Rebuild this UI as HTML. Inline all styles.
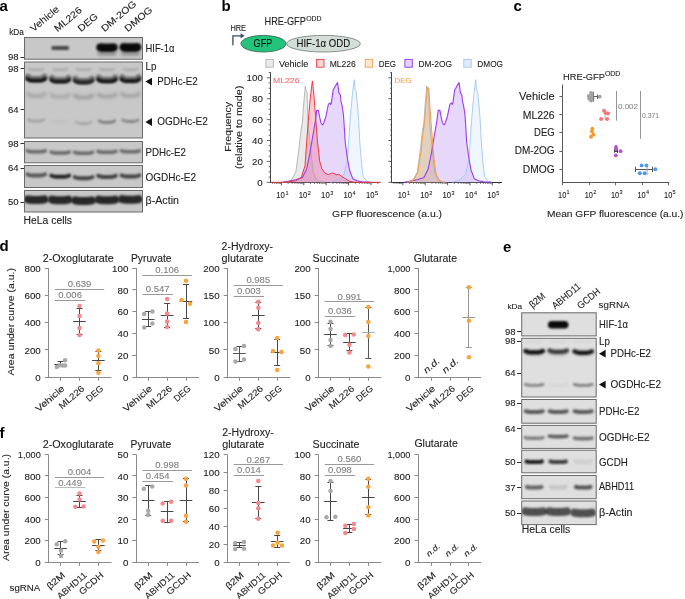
<!DOCTYPE html>
<html><head><meta charset="utf-8"><style>
html,body{margin:0;padding:0;background:#fff;}
svg{display:block;font-family:"Liberation Sans",sans-serif;will-change:transform;}
</style></head><body>
<svg width="685" height="599" viewBox="0 0 685 599">
<defs>
<filter id="bl1" x="-50%" y="-50%" width="200%" height="200%"><feGaussianBlur stdDeviation="1.2"/></filter>
<filter id="bl2" x="-50%" y="-50%" width="200%" height="200%"><feGaussianBlur stdDeviation="0.8"/></filter>
<filter id="bl3" x="-50%" y="-50%" width="200%" height="200%"><feGaussianBlur stdDeviation="1.8"/></filter>
</defs>
<rect width="685" height="599" fill="#fff"/>
<text x="-0.50" y="10.80" font-size="15" fill="#000" font-weight="bold" textLength="8.34" lengthAdjust="spacingAndGlyphs">a</text>
<text x="221.50" y="10.80" font-size="15" fill="#000" font-weight="bold" textLength="9.16" lengthAdjust="spacingAndGlyphs">b</text>
<text x="513.50" y="11.00" font-size="15" fill="#000" font-weight="bold" textLength="8.34" lengthAdjust="spacingAndGlyphs">c</text>
<text x="-0.50" y="250.80" font-size="15" fill="#000" font-weight="bold" textLength="9.16" lengthAdjust="spacingAndGlyphs">d</text>
<text x="503.00" y="252.00" font-size="15" fill="#000" font-weight="bold" textLength="8.34" lengthAdjust="spacingAndGlyphs">e</text>
<text x="-0.50" y="438.00" font-size="15" fill="#000" font-weight="bold" textLength="5.00" lengthAdjust="spacingAndGlyphs">f</text>
<clipPath id="cb1"><rect x="24.5" y="37.5" width="118.0" height="21.700000000000003"/></clipPath>
<rect x="24.5" y="37.5" width="118.0" height="21.700000000000003" fill="#c8c8c8"/>
<g clip-path="url(#cb1)">
<path d="M53.10 48.00 L67.30 48.00" stroke="#0a0a0a" stroke-opacity="0.68" stroke-width="3.80" stroke-linecap="round" stroke-linejoin="round" fill="none" style="filter:blur(0.9px)"/>
<path d="M100.45 47.40 Q102.20 47.80 104.82 47.80 L109.18 47.80 Q111.80 47.80 113.55 47.40" stroke="#0a0a0a" stroke-opacity="1.0" stroke-width="8.40" stroke-linecap="round" stroke-linejoin="round" fill="none" style="filter:blur(0.8px)"/>
<path d="M123.70 47.20 Q125.49 47.60 128.17 47.60 L132.63 47.60 Q135.31 47.60 137.10 47.20" stroke="#0a0a0a" stroke-opacity="1.0" stroke-width="8.60" stroke-linecap="round" stroke-linejoin="round" fill="none" style="filter:blur(0.8px)"/>
<path d="M99.25 53.80 L114.75 53.80" stroke="#0a0a0a" stroke-opacity="0.3" stroke-width="3.50" stroke-linecap="round" stroke-linejoin="round" fill="none" style="filter:blur(1.4px)"/>
<path d="M122.65 53.80 L138.15 53.80" stroke="#0a0a0a" stroke-opacity="0.3" stroke-width="3.50" stroke-linecap="round" stroke-linejoin="round" fill="none" style="filter:blur(1.4px)"/>
</g>
<rect x="24.5" y="37.5" width="118.0" height="21.700000000000003" fill="none" stroke="#6a6a6a" stroke-width="1"/>
<clipPath id="cb2"><rect x="24.5" y="62" width="118.0" height="76"/></clipPath>
<rect x="24.5" y="62" width="118.0" height="76" fill="#c8c8c8"/>
<g clip-path="url(#cb2)">
<path d="M29.15 69.00 Q31.03 69.80 33.85 69.80 L38.55 69.80 Q41.37 69.80 43.25 69.00" stroke="#0a0a0a" stroke-opacity="0.2" stroke-width="1.90" stroke-linecap="round" stroke-linejoin="round" fill="none" style="filter:blur(0.8px)"/>
<path d="M27.95 76.80 Q29.95 79.00 32.95 79.00 L39.45 79.00 Q42.45 79.00 44.45 76.80" stroke="#0a0a0a" stroke-opacity="0.45" stroke-width="6.00" stroke-linecap="round" stroke-linejoin="round" fill="none" style="filter:blur(1.1px)"/>
<path d="M27.35 78.80 Q29.35 80.60 32.35 80.60 L40.05 80.60 Q43.05 80.60 45.05 78.80" stroke="#0a0a0a" stroke-opacity="0.92" stroke-width="3.80" stroke-linecap="round" stroke-linejoin="round" fill="none" style="filter:blur(0.8px)"/>
<path d="M27.80 94.00 Q29.80 96.00 32.80 96.00 L39.60 96.00 Q42.60 96.00 44.60 94.00" stroke="#0a0a0a" stroke-opacity="0.16" stroke-width="4.20" stroke-linecap="round" stroke-linejoin="round" fill="none" style="filter:blur(1.4px)"/>
<path d="M53.15 69.00 Q55.03 69.80 57.85 69.80 L62.55 69.80 Q65.37 69.80 67.25 69.00" stroke="#0a0a0a" stroke-opacity="0.2" stroke-width="1.90" stroke-linecap="round" stroke-linejoin="round" fill="none" style="filter:blur(0.8px)"/>
<path d="M51.95 77.90 Q53.95 80.10 56.95 80.10 L63.45 80.10 Q66.45 80.10 68.45 77.90" stroke="#0a0a0a" stroke-opacity="0.45" stroke-width="6.00" stroke-linecap="round" stroke-linejoin="round" fill="none" style="filter:blur(1.1px)"/>
<path d="M51.35 79.90 Q53.35 81.70 56.35 81.70 L64.05 81.70 Q67.05 81.70 69.05 79.90" stroke="#0a0a0a" stroke-opacity="0.88" stroke-width="3.80" stroke-linecap="round" stroke-linejoin="round" fill="none" style="filter:blur(0.8px)"/>
<path d="M51.80 95.00 Q53.80 97.00 56.80 97.00 L63.60 97.00 Q66.60 97.00 68.60 95.00" stroke="#0a0a0a" stroke-opacity="0.14" stroke-width="4.20" stroke-linecap="round" stroke-linejoin="round" fill="none" style="filter:blur(1.4px)"/>
<path d="M76.55 69.00 Q78.43 69.80 81.25 69.80 L85.95 69.80 Q88.77 69.80 90.65 69.00" stroke="#0a0a0a" stroke-opacity="0.2" stroke-width="1.90" stroke-linecap="round" stroke-linejoin="round" fill="none" style="filter:blur(0.8px)"/>
<path d="M75.35 78.70 Q77.35 80.90 80.35 80.90 L86.85 80.90 Q89.85 80.90 91.85 78.70" stroke="#0a0a0a" stroke-opacity="0.45" stroke-width="6.00" stroke-linecap="round" stroke-linejoin="round" fill="none" style="filter:blur(1.1px)"/>
<path d="M74.75 80.70 Q76.75 82.50 79.75 82.50 L87.45 82.50 Q90.45 82.50 92.45 80.70" stroke="#0a0a0a" stroke-opacity="0.78" stroke-width="3.80" stroke-linecap="round" stroke-linejoin="round" fill="none" style="filter:blur(0.8px)"/>
<path d="M75.20 95.50 Q77.20 97.50 80.20 97.50 L87.00 97.50 Q90.00 97.50 92.00 95.50" stroke="#0a0a0a" stroke-opacity="0.2" stroke-width="4.20" stroke-linecap="round" stroke-linejoin="round" fill="none" style="filter:blur(1.4px)"/>
<path d="M99.95 69.00 Q101.83 69.80 104.65 69.80 L109.35 69.80 Q112.17 69.80 114.05 69.00" stroke="#0a0a0a" stroke-opacity="0.2" stroke-width="1.90" stroke-linecap="round" stroke-linejoin="round" fill="none" style="filter:blur(0.8px)"/>
<path d="M98.75 77.50 Q100.75 79.70 103.75 79.70 L110.25 79.70 Q113.25 79.70 115.25 77.50" stroke="#0a0a0a" stroke-opacity="0.45" stroke-width="6.00" stroke-linecap="round" stroke-linejoin="round" fill="none" style="filter:blur(1.1px)"/>
<path d="M98.15 79.50 Q100.15 81.30 103.15 81.30 L110.85 81.30 Q113.85 81.30 115.85 79.50" stroke="#0a0a0a" stroke-opacity="0.9" stroke-width="3.80" stroke-linecap="round" stroke-linejoin="round" fill="none" style="filter:blur(0.8px)"/>
<path d="M98.60 94.50 Q100.60 96.50 103.60 96.50 L110.40 96.50 Q113.40 96.50 115.40 94.50" stroke="#0a0a0a" stroke-opacity="0.18" stroke-width="4.20" stroke-linecap="round" stroke-linejoin="round" fill="none" style="filter:blur(1.4px)"/>
<path d="M123.35 69.00 Q125.23 69.80 128.05 69.80 L132.75 69.80 Q135.57 69.80 137.45 69.00" stroke="#0a0a0a" stroke-opacity="0.2" stroke-width="1.90" stroke-linecap="round" stroke-linejoin="round" fill="none" style="filter:blur(0.8px)"/>
<path d="M122.15 77.30 Q124.15 79.50 127.15 79.50 L133.65 79.50 Q136.65 79.50 138.65 77.30" stroke="#0a0a0a" stroke-opacity="0.45" stroke-width="6.00" stroke-linecap="round" stroke-linejoin="round" fill="none" style="filter:blur(1.1px)"/>
<path d="M121.55 79.30 Q123.55 81.10 126.55 81.10 L134.25 81.10 Q137.25 81.10 139.25 79.30" stroke="#0a0a0a" stroke-opacity="0.9" stroke-width="3.80" stroke-linecap="round" stroke-linejoin="round" fill="none" style="filter:blur(0.8px)"/>
<path d="M122.00 94.00 Q124.00 96.00 127.00 96.00 L133.80 96.00 Q136.80 96.00 138.80 94.00" stroke="#0a0a0a" stroke-opacity="0.17" stroke-width="4.20" stroke-linecap="round" stroke-linejoin="round" fill="none" style="filter:blur(1.4px)"/>
<path d="M28.60 119.70 Q30.60 121.20 33.60 121.20 L38.80 121.20 Q41.80 121.20 43.80 119.70" stroke="#0a0a0a" stroke-opacity="0.2" stroke-width="2.80" stroke-linecap="round" stroke-linejoin="round" fill="none" style="filter:blur(1.0px)"/>
<path d="M52.60 120.50 Q54.60 122.00 57.60 122.00 L62.80 122.00 Q65.80 122.00 67.80 120.50" stroke="#0a0a0a" stroke-opacity="0.04" stroke-width="2.80" stroke-linecap="round" stroke-linejoin="round" fill="none" style="filter:blur(1.0px)"/>
<path d="M76.00 122.00 Q78.00 123.50 81.00 123.50 L86.20 123.50 Q89.20 123.50 91.20 122.00" stroke="#0a0a0a" stroke-opacity="0.17" stroke-width="2.80" stroke-linecap="round" stroke-linejoin="round" fill="none" style="filter:blur(1.0px)"/>
<path d="M99.40 120.80 Q101.40 122.30 104.40 122.30 L109.60 122.30 Q112.60 122.30 114.60 120.80" stroke="#0a0a0a" stroke-opacity="0.4" stroke-width="2.80" stroke-linecap="round" stroke-linejoin="round" fill="none" style="filter:blur(1.0px)"/>
<path d="M122.80 120.00 Q124.80 121.50 127.80 121.50 L133.00 121.50 Q136.00 121.50 138.00 120.00" stroke="#0a0a0a" stroke-opacity="0.35" stroke-width="2.80" stroke-linecap="round" stroke-linejoin="round" fill="none" style="filter:blur(1.0px)"/>
</g>
<rect x="24.5" y="62" width="118.0" height="76" fill="none" stroke="#6a6a6a" stroke-width="1"/>
<clipPath id="cb3"><rect x="24.5" y="141.5" width="118.0" height="21.30000000000001"/></clipPath>
<rect x="24.5" y="141.5" width="118.0" height="21.30000000000001" fill="#c8c8c8"/>
<g clip-path="url(#cb3)">
<path d="M27.15 150.80 Q29.15 151.80 32.15 151.80 L40.25 151.80 Q43.25 151.80 45.25 150.80" stroke="#0a0a0a" stroke-opacity="0.5" stroke-width="3.40" stroke-linecap="round" stroke-linejoin="round" fill="none" style="filter:blur(0.9px)"/>
<path d="M51.15 152.00 Q53.15 153.00 56.15 153.00 L64.25 153.00 Q67.25 153.00 69.25 152.00" stroke="#0a0a0a" stroke-opacity="0.5" stroke-width="3.40" stroke-linecap="round" stroke-linejoin="round" fill="none" style="filter:blur(0.9px)"/>
<path d="M74.55 152.30 Q76.55 153.30 79.55 153.30 L87.65 153.30 Q90.65 153.30 92.65 152.30" stroke="#0a0a0a" stroke-opacity="0.5" stroke-width="3.40" stroke-linecap="round" stroke-linejoin="round" fill="none" style="filter:blur(0.9px)"/>
<path d="M97.95 151.30 Q99.95 152.30 102.95 152.30 L111.05 152.30 Q114.05 152.30 116.05 151.30" stroke="#0a0a0a" stroke-opacity="0.5" stroke-width="3.40" stroke-linecap="round" stroke-linejoin="round" fill="none" style="filter:blur(0.9px)"/>
<path d="M121.35 150.80 Q123.35 151.80 126.35 151.80 L134.45 151.80 Q137.45 151.80 139.45 150.80" stroke="#0a0a0a" stroke-opacity="0.5" stroke-width="3.40" stroke-linecap="round" stroke-linejoin="round" fill="none" style="filter:blur(0.9px)"/>
</g>
<rect x="24.5" y="141.5" width="118.0" height="21.30000000000001" fill="none" stroke="#6a6a6a" stroke-width="1"/>
<clipPath id="cb4"><rect x="24.5" y="165.5" width="118.0" height="22.0"/></clipPath>
<rect x="24.5" y="165.5" width="118.0" height="22.0" fill="#c8c8c8"/>
<g clip-path="url(#cb4)">
<path d="M27.45 174.40 Q29.45 175.60 32.45 175.60 L39.95 175.60 Q42.95 175.60 44.95 174.40" stroke="#0a0a0a" stroke-opacity="0.6" stroke-width="4.00" stroke-linecap="round" stroke-linejoin="round" fill="none" style="filter:blur(0.9px)"/>
<path d="M51.45 175.60 Q53.45 176.80 56.45 176.80 L63.95 176.80 Q66.95 176.80 68.95 175.60" stroke="#0a0a0a" stroke-opacity="0.88" stroke-width="4.00" stroke-linecap="round" stroke-linejoin="round" fill="none" style="filter:blur(0.9px)"/>
<path d="M74.85 177.10 Q76.85 178.30 79.85 178.30 L87.35 178.30 Q90.35 178.30 92.35 177.10" stroke="#0a0a0a" stroke-opacity="0.7" stroke-width="4.00" stroke-linecap="round" stroke-linejoin="round" fill="none" style="filter:blur(0.9px)"/>
<path d="M98.25 175.80 Q100.25 177.00 103.25 177.00 L110.75 177.00 Q113.75 177.00 115.75 175.80" stroke="#0a0a0a" stroke-opacity="0.7" stroke-width="4.00" stroke-linecap="round" stroke-linejoin="round" fill="none" style="filter:blur(0.9px)"/>
<path d="M121.65 175.40 Q123.65 176.60 126.65 176.60 L134.15 176.60 Q137.15 176.60 139.15 175.40" stroke="#0a0a0a" stroke-opacity="0.7" stroke-width="4.00" stroke-linecap="round" stroke-linejoin="round" fill="none" style="filter:blur(0.9px)"/>
</g>
<rect x="24.5" y="165.5" width="118.0" height="22.0" fill="none" stroke="#6a6a6a" stroke-width="1"/>
<clipPath id="cb5"><rect x="24.5" y="190.5" width="118.0" height="21.5"/></clipPath>
<rect x="24.5" y="190.5" width="118.0" height="21.5" fill="#c8c8c8"/>
<g clip-path="url(#cb5)">
<path d="M27.95 199.40 Q29.95 200.00 32.95 200.00 L39.45 200.00 Q42.45 200.00 44.45 199.40" stroke="#0a0a0a" stroke-opacity="0.85" stroke-width="8.00" stroke-linecap="round" stroke-linejoin="round" fill="none" style="filter:blur(1.1px)"/>
<path d="M51.95 199.60 Q53.95 200.20 56.95 200.20 L63.45 200.20 Q66.45 200.20 68.45 199.60" stroke="#0a0a0a" stroke-opacity="0.85" stroke-width="8.00" stroke-linecap="round" stroke-linejoin="round" fill="none" style="filter:blur(1.1px)"/>
<path d="M75.35 200.40 Q77.35 201.00 80.35 201.00 L86.85 201.00 Q89.85 201.00 91.85 200.40" stroke="#0a0a0a" stroke-opacity="0.85" stroke-width="8.00" stroke-linecap="round" stroke-linejoin="round" fill="none" style="filter:blur(1.1px)"/>
<path d="M98.75 199.60 Q100.75 200.20 103.75 200.20 L110.25 200.20 Q113.25 200.20 115.25 199.60" stroke="#0a0a0a" stroke-opacity="0.85" stroke-width="8.00" stroke-linecap="round" stroke-linejoin="round" fill="none" style="filter:blur(1.1px)"/>
<path d="M122.15 199.20 Q124.15 199.80 127.15 199.80 L133.65 199.80 Q136.65 199.80 138.65 199.20" stroke="#0a0a0a" stroke-opacity="0.85" stroke-width="8.00" stroke-linecap="round" stroke-linejoin="round" fill="none" style="filter:blur(1.1px)"/>
</g>
<rect x="24.5" y="190.5" width="118.0" height="21.5" fill="none" stroke="#6a6a6a" stroke-width="1"/>
<text x="9.20" y="34.50" font-size="8.5" fill="#222" stroke="#222" stroke-width="0.1" textLength="14.70" lengthAdjust="spacingAndGlyphs">kDa</text>
<line x1="20.50" y1="57.50" x2="24.00" y2="57.50" stroke="#333" stroke-width="1"/>
<text x="18.50" y="60.40" font-size="8.5" text-anchor="end" fill="#222" stroke="#222" stroke-width="0.1" textLength="10.59" lengthAdjust="spacingAndGlyphs">98</text>
<line x1="20.50" y1="68.50" x2="24.00" y2="68.50" stroke="#333" stroke-width="1"/>
<text x="18.50" y="71.50" font-size="8.5" text-anchor="end" fill="#222" stroke="#222" stroke-width="0.1" textLength="10.59" lengthAdjust="spacingAndGlyphs">98</text>
<line x1="20.50" y1="109.50" x2="24.00" y2="109.50" stroke="#333" stroke-width="1"/>
<text x="18.50" y="112.50" font-size="8.5" text-anchor="end" fill="#222" stroke="#222" stroke-width="0.1" textLength="10.59" lengthAdjust="spacingAndGlyphs">64</text>
<line x1="20.50" y1="143.50" x2="24.00" y2="143.50" stroke="#333" stroke-width="1"/>
<text x="18.50" y="146.60" font-size="8.5" text-anchor="end" fill="#222" stroke="#222" stroke-width="0.1" textLength="10.59" lengthAdjust="spacingAndGlyphs">98</text>
<line x1="20.50" y1="168.50" x2="24.00" y2="168.50" stroke="#333" stroke-width="1"/>
<text x="18.50" y="171.10" font-size="8.5" text-anchor="end" fill="#222" stroke="#222" stroke-width="0.1" textLength="10.59" lengthAdjust="spacingAndGlyphs">64</text>
<line x1="20.50" y1="202.50" x2="24.00" y2="202.50" stroke="#333" stroke-width="1"/>
<text x="18.50" y="205.10" font-size="8.5" text-anchor="end" fill="#222" stroke="#222" stroke-width="0.1" textLength="10.59" lengthAdjust="spacingAndGlyphs">50</text>
<text transform="translate(33.60,32.20) rotate(-40)" font-size="9.5" fill="#222" stroke="#222" stroke-width="0.1" textLength="34.31" lengthAdjust="spacingAndGlyphs">Vehicle</text>
<text transform="translate(57.60,32.20) rotate(-40)" font-size="9.5" fill="#222" stroke="#222" stroke-width="0.1" textLength="32.53" lengthAdjust="spacingAndGlyphs">ML226</text>
<text transform="translate(81.00,32.20) rotate(-40)" font-size="9.5" fill="#222" stroke="#222" stroke-width="0.1" textLength="23.06" lengthAdjust="spacingAndGlyphs">DEG</text>
<text transform="translate(104.40,32.20) rotate(-40)" font-size="9.5" fill="#222" stroke="#222" stroke-width="0.1" textLength="42.56" lengthAdjust="spacingAndGlyphs">DM-2OG</text>
<text transform="translate(127.80,32.20) rotate(-40)" font-size="9.5" fill="#222" stroke="#222" stroke-width="0.1" textLength="33.10" lengthAdjust="spacingAndGlyphs">DMOG</text>
<text x="145.50" y="51.80" font-size="10.2" fill="#222" stroke="#222" stroke-width="0.1" textLength="28.90" lengthAdjust="spacingAndGlyphs">HIF-1α</text>
<text x="145.50" y="69.80" font-size="10.2" fill="#222" stroke="#222" stroke-width="0.1" textLength="10.80" lengthAdjust="spacingAndGlyphs">Lp</text>
<text x="145.50" y="156.20" font-size="10.2" fill="#222" stroke="#222" stroke-width="0.1" textLength="40.40" lengthAdjust="spacingAndGlyphs">PDHc-E2</text>
<text x="145.50" y="181.20" font-size="10.2" fill="#222" stroke="#222" stroke-width="0.1" textLength="50.50" lengthAdjust="spacingAndGlyphs">OGDHc-E2</text>
<text x="145.50" y="204.40" font-size="10.2" fill="#222" stroke="#222" stroke-width="0.1" textLength="33.50" lengthAdjust="spacingAndGlyphs">β-Actin</text>
<path d="M145.4 81.6 L152.0 77.7 L152.0 85.5 Z" fill="#111"/>
<text x="157.30" y="84.60" font-size="10.2" fill="#222" stroke="#222" stroke-width="0.1" textLength="40.40" lengthAdjust="spacingAndGlyphs">PDHc-E2</text>
<path d="M145.4 122.0 L152.0 118.1 L152.0 125.9 Z" fill="#111"/>
<text x="157.30" y="125.00" font-size="10.2" fill="#222" stroke="#222" stroke-width="0.1" textLength="50.50" lengthAdjust="spacingAndGlyphs">OGDHc-E2</text>
<text x="23.60" y="223.60" font-size="10" fill="#222" stroke="#222" stroke-width="0.1" textLength="48.40" lengthAdjust="spacingAndGlyphs">HeLa cells</text>
<clipPath id="cb6"><rect x="521.7" y="312.8" width="74.5" height="23.099999999999966"/></clipPath>
<rect x="521.7" y="312.8" width="74.5" height="23.099999999999966" fill="#dfdfdf"/>
<g clip-path="url(#cb6)">
<path d="M551.70 324.80 L564.70 324.80" stroke="#0a0a0a" stroke-opacity="1.0" stroke-width="7.60" stroke-linecap="round" stroke-linejoin="round" fill="none" style="filter:blur(0.8px)"/>
</g>
<rect x="521.7" y="312.8" width="74.5" height="23.099999999999966" fill="none" stroke="#6a6a6a" stroke-width="1"/>
<clipPath id="cb7"><rect x="521.7" y="338.3" width="74.5" height="58.69999999999999"/></clipPath>
<rect x="521.7" y="338.3" width="74.5" height="58.69999999999999" fill="#dfdfdf"/>
<g clip-path="url(#cb7)">
<path d="M526.10 341.30 Q528.10 341.80 531.10 341.80 L537.30 341.80 Q540.30 341.80 542.30 341.30" stroke="#0a0a0a" stroke-opacity="0.05" stroke-width="1.80" stroke-linecap="round" stroke-linejoin="round" fill="none" style="filter:blur(1.0px)"/>
<path d="M525.55 351.00 Q527.55 352.40 530.55 352.40 L537.85 352.40 Q540.85 352.40 542.85 351.00" stroke="#0a0a0a" stroke-opacity="0.95" stroke-width="4.20" stroke-linecap="round" stroke-linejoin="round" fill="none" style="filter:blur(0.8px)"/>
<path d="M526.70 351.80 Q528.70 353.00 531.70 353.00 L536.70 353.00 Q539.70 353.00 541.70 351.80" stroke="#0a0a0a" stroke-opacity="0.15" stroke-width="6.50" stroke-linecap="round" stroke-linejoin="round" fill="none" style="filter:blur(1.5px)"/>
<path d="M525.35 384.40 Q527.35 385.30 530.35 385.30 L538.05 385.30 Q541.05 385.30 543.05 384.40" stroke="#0a0a0a" stroke-opacity="0.42" stroke-width="2.80" stroke-linecap="round" stroke-linejoin="round" fill="none" style="filter:blur(1.0px)"/>
<path d="M550.10 341.30 Q552.10 341.80 555.10 341.80 L561.30 341.80 Q564.30 341.80 566.30 341.30" stroke="#0a0a0a" stroke-opacity="0.05" stroke-width="1.80" stroke-linecap="round" stroke-linejoin="round" fill="none" style="filter:blur(1.0px)"/>
<path d="M549.55 350.50 Q551.55 351.90 554.55 351.90 L561.85 351.90 Q564.85 351.90 566.85 350.50" stroke="#0a0a0a" stroke-opacity="0.72" stroke-width="4.20" stroke-linecap="round" stroke-linejoin="round" fill="none" style="filter:blur(0.8px)"/>
<path d="M550.70 351.80 Q552.70 353.00 555.70 353.00 L560.70 353.00 Q563.70 353.00 565.70 351.80" stroke="#0a0a0a" stroke-opacity="0.15" stroke-width="6.50" stroke-linecap="round" stroke-linejoin="round" fill="none" style="filter:blur(1.5px)"/>
<path d="M549.35 384.40 Q551.35 385.30 554.35 385.30 L562.05 385.30 Q565.05 385.30 567.05 384.40" stroke="#0a0a0a" stroke-opacity="0.05" stroke-width="2.80" stroke-linecap="round" stroke-linejoin="round" fill="none" style="filter:blur(1.0px)"/>
<path d="M575.10 341.30 Q577.10 341.80 580.10 341.80 L586.30 341.80 Q589.30 341.80 591.30 341.30" stroke="#0a0a0a" stroke-opacity="0.05" stroke-width="1.80" stroke-linecap="round" stroke-linejoin="round" fill="none" style="filter:blur(1.0px)"/>
<path d="M574.55 351.40 Q576.55 352.80 579.55 352.80 L586.85 352.80 Q589.85 352.80 591.85 351.40" stroke="#0a0a0a" stroke-opacity="0.92" stroke-width="4.20" stroke-linecap="round" stroke-linejoin="round" fill="none" style="filter:blur(0.8px)"/>
<path d="M575.70 351.80 Q577.70 353.00 580.70 353.00 L585.70 353.00 Q588.70 353.00 590.70 351.80" stroke="#0a0a0a" stroke-opacity="0.15" stroke-width="6.50" stroke-linecap="round" stroke-linejoin="round" fill="none" style="filter:blur(1.5px)"/>
<path d="M574.35 384.40 Q576.35 385.30 579.35 385.30 L587.05 385.30 Q590.05 385.30 592.05 384.40" stroke="#0a0a0a" stroke-opacity="0.45" stroke-width="2.80" stroke-linecap="round" stroke-linejoin="round" fill="none" style="filter:blur(1.0px)"/>
</g>
<rect x="521.7" y="338.3" width="74.5" height="58.69999999999999" fill="none" stroke="#6a6a6a" stroke-width="1"/>
<clipPath id="cb8"><rect x="521.7" y="399.5" width="74.5" height="23.69999999999999"/></clipPath>
<rect x="521.7" y="399.5" width="74.5" height="23.69999999999999" fill="#dfdfdf"/>
<g clip-path="url(#cb8)">
<path d="M525.70 411.20 Q527.70 412.00 530.70 412.00 L537.70 412.00 Q540.70 412.00 542.70 411.20" stroke="#0a0a0a" stroke-opacity="0.62" stroke-width="4.00" stroke-linecap="round" stroke-linejoin="round" fill="none" style="filter:blur(0.9px)"/>
<path d="M549.70 411.20 Q551.70 412.00 554.70 412.00 L561.70 412.00 Q564.70 412.00 566.70 411.20" stroke="#0a0a0a" stroke-opacity="0.62" stroke-width="4.00" stroke-linecap="round" stroke-linejoin="round" fill="none" style="filter:blur(0.9px)"/>
<path d="M574.70 411.20 Q576.70 412.00 579.70 412.00 L586.70 412.00 Q589.70 412.00 591.70 411.20" stroke="#0a0a0a" stroke-opacity="0.62" stroke-width="4.00" stroke-linecap="round" stroke-linejoin="round" fill="none" style="filter:blur(0.9px)"/>
</g>
<rect x="521.7" y="399.5" width="74.5" height="23.69999999999999" fill="none" stroke="#6a6a6a" stroke-width="1"/>
<clipPath id="cb9"><rect x="521.7" y="425.4" width="74.5" height="23.0"/></clipPath>
<rect x="521.7" y="425.4" width="74.5" height="23.0" fill="#dfdfdf"/>
<g clip-path="url(#cb9)">
<path d="M525.50 437.60 Q527.50 438.20 530.50 438.20 L537.90 438.20 Q540.90 438.20 542.90 437.60" stroke="#0a0a0a" stroke-opacity="0.45" stroke-width="3.60" stroke-linecap="round" stroke-linejoin="round" fill="none" style="filter:blur(0.9px)"/>
<path d="M549.50 436.00 Q551.50 436.60 554.50 436.60 L561.90 436.60 Q564.90 436.60 566.90 436.00" stroke="#0a0a0a" stroke-opacity="0.6" stroke-width="3.60" stroke-linecap="round" stroke-linejoin="round" fill="none" style="filter:blur(0.9px)"/>
<path d="M574.50 438.00 Q576.50 438.60 579.50 438.60 L586.90 438.60 Q589.90 438.60 591.90 438.00" stroke="#0a0a0a" stroke-opacity="0.5" stroke-width="3.60" stroke-linecap="round" stroke-linejoin="round" fill="none" style="filter:blur(0.9px)"/>
</g>
<rect x="521.7" y="425.4" width="74.5" height="23.0" fill="none" stroke="#6a6a6a" stroke-width="1"/>
<clipPath id="cb10"><rect x="521.7" y="450.2" width="74.5" height="22.600000000000023"/></clipPath>
<rect x="521.7" y="450.2" width="74.5" height="22.600000000000023" fill="#dfdfdf"/>
<g clip-path="url(#cb10)">
<path d="M526.55 461.40 Q528.55 462.00 531.55 462.00 L536.85 462.00 Q539.85 462.00 541.85 461.40" stroke="#0a0a0a" stroke-opacity="0.9" stroke-width="4.20" stroke-linecap="round" stroke-linejoin="round" fill="none" style="filter:blur(0.9px)"/>
<path d="M550.55 461.40 Q552.55 462.00 555.55 462.00 L560.85 462.00 Q563.85 462.00 565.85 461.40" stroke="#0a0a0a" stroke-opacity="0.75" stroke-width="4.20" stroke-linecap="round" stroke-linejoin="round" fill="none" style="filter:blur(0.9px)"/>
<path d="M575.55 461.40 Q577.55 462.00 580.55 462.00 L585.85 462.00 Q588.85 462.00 590.85 461.40" stroke="#0a0a0a" stroke-opacity="0.08" stroke-width="4.20" stroke-linecap="round" stroke-linejoin="round" fill="none" style="filter:blur(0.9px)"/>
</g>
<rect x="521.7" y="450.2" width="74.5" height="22.600000000000023" fill="none" stroke="#6a6a6a" stroke-width="1"/>
<clipPath id="cb11"><rect x="521.7" y="475.5" width="74.5" height="23.19999999999999"/></clipPath>
<rect x="521.7" y="475.5" width="74.5" height="23.19999999999999" fill="#dfdfdf"/>
<g clip-path="url(#cb11)">
<path d="M527.05 486.90 Q528.96 487.50 531.82 487.50 L536.58 487.50 Q539.44 487.50 541.35 486.90" stroke="#0a0a0a" stroke-opacity="0.58" stroke-width="4.20" stroke-linecap="round" stroke-linejoin="round" fill="none" style="filter:blur(0.9px)"/>
<path d="M551.05 486.90 Q552.96 487.50 555.82 487.50 L560.58 487.50 Q563.44 487.50 565.35 486.90" stroke="#0a0a0a" stroke-opacity="0.12" stroke-width="4.20" stroke-linecap="round" stroke-linejoin="round" fill="none" style="filter:blur(0.9px)"/>
<path d="M576.05 486.90 Q577.96 487.50 580.82 487.50 L585.58 487.50 Q588.44 487.50 590.35 486.90" stroke="#0a0a0a" stroke-opacity="0.65" stroke-width="4.20" stroke-linecap="round" stroke-linejoin="round" fill="none" style="filter:blur(0.9px)"/>
</g>
<rect x="521.7" y="475.5" width="74.5" height="23.19999999999999" fill="none" stroke="#6a6a6a" stroke-width="1"/>
<clipPath id="cb12"><rect x="521.7" y="501" width="74.5" height="23.600000000000023"/></clipPath>
<rect x="521.7" y="501" width="74.5" height="23.600000000000023" fill="#dfdfdf"/>
<g clip-path="url(#cb12)">
<path d="M525.45 511.40 Q527.45 512.00 530.45 512.00 L537.95 512.00 Q540.95 512.00 542.95 511.40" stroke="#0a0a0a" stroke-opacity="0.68" stroke-width="8.00" stroke-linecap="round" stroke-linejoin="round" fill="none" style="filter:blur(1.1px)"/>
<path d="M549.45 511.40 Q551.45 512.00 554.45 512.00 L561.95 512.00 Q564.95 512.00 566.95 511.40" stroke="#0a0a0a" stroke-opacity="0.68" stroke-width="8.00" stroke-linecap="round" stroke-linejoin="round" fill="none" style="filter:blur(1.1px)"/>
<path d="M574.45 512.70 Q576.45 513.30 579.45 513.30 L586.95 513.30 Q589.95 513.30 591.95 512.70" stroke="#0a0a0a" stroke-opacity="0.68" stroke-width="8.00" stroke-linecap="round" stroke-linejoin="round" fill="none" style="filter:blur(1.1px)"/>
</g>
<rect x="521.7" y="501" width="74.5" height="23.600000000000023" fill="none" stroke="#6a6a6a" stroke-width="1"/>
<text x="507.50" y="309.30" font-size="7.5" fill="#222" stroke="#222" stroke-width="0.1" textLength="14.67" lengthAdjust="spacingAndGlyphs">kDa</text>
<line x1="517.00" y1="331.50" x2="521.00" y2="331.50" stroke="#333" stroke-width="1"/>
<text x="515.50" y="334.60" font-size="8.5" text-anchor="end" fill="#222" stroke="#222" stroke-width="0.1" textLength="10.59" lengthAdjust="spacingAndGlyphs">98</text>
<line x1="517.00" y1="341.50" x2="521.00" y2="341.50" stroke="#333" stroke-width="1"/>
<text x="515.50" y="344.10" font-size="8.5" text-anchor="end" fill="#222" stroke="#222" stroke-width="0.1" textLength="10.59" lengthAdjust="spacingAndGlyphs">98</text>
<line x1="517.00" y1="373.50" x2="521.00" y2="373.50" stroke="#333" stroke-width="1"/>
<text x="515.50" y="376.20" font-size="8.5" text-anchor="end" fill="#222" stroke="#222" stroke-width="0.1" textLength="10.59" lengthAdjust="spacingAndGlyphs">64</text>
<line x1="517.00" y1="403.50" x2="521.00" y2="403.50" stroke="#333" stroke-width="1"/>
<text x="515.50" y="406.10" font-size="8.5" text-anchor="end" fill="#222" stroke="#222" stroke-width="0.1" textLength="10.59" lengthAdjust="spacingAndGlyphs">98</text>
<line x1="517.00" y1="428.50" x2="521.00" y2="428.50" stroke="#333" stroke-width="1"/>
<text x="515.50" y="432.00" font-size="8.5" text-anchor="end" fill="#222" stroke="#222" stroke-width="0.1" textLength="10.59" lengthAdjust="spacingAndGlyphs">64</text>
<line x1="517.00" y1="462.50" x2="521.00" y2="462.50" stroke="#333" stroke-width="1"/>
<text x="515.50" y="465.10" font-size="8.5" text-anchor="end" fill="#222" stroke="#222" stroke-width="0.1" textLength="10.59" lengthAdjust="spacingAndGlyphs">50</text>
<line x1="517.00" y1="487.50" x2="521.00" y2="487.50" stroke="#333" stroke-width="1"/>
<text x="515.50" y="490.60" font-size="8.5" text-anchor="end" fill="#222" stroke="#222" stroke-width="0.1" textLength="10.59" lengthAdjust="spacingAndGlyphs">37</text>
<line x1="517.00" y1="513.50" x2="521.00" y2="513.50" stroke="#333" stroke-width="1"/>
<text x="515.50" y="516.30" font-size="8.5" text-anchor="end" fill="#222" stroke="#222" stroke-width="0.1" textLength="10.59" lengthAdjust="spacingAndGlyphs">50</text>
<text transform="translate(532.40,308.50) rotate(-40)" font-size="9.8" fill="#222" stroke="#222" stroke-width="0.1" textLength="17.80" lengthAdjust="spacingAndGlyphs">β2M</text>
<text transform="translate(555.20,309.50) rotate(-40)" font-size="9.8" fill="#222" stroke="#222" stroke-width="0.1" textLength="34.00" lengthAdjust="spacingAndGlyphs">ABHD11</text>
<text transform="translate(580.60,309.50) rotate(-40)" font-size="9.8" fill="#222" stroke="#222" stroke-width="0.1" textLength="26.50" lengthAdjust="spacingAndGlyphs">GCDH</text>
<text x="598.60" y="307.60" font-size="9.8" fill="#222" stroke="#222" stroke-width="0.1" textLength="30.90" lengthAdjust="spacingAndGlyphs">sgRNA</text>
<text x="599.00" y="328.00" font-size="10.2" fill="#222" stroke="#222" stroke-width="0.1" textLength="28.90" lengthAdjust="spacingAndGlyphs">HIF-1α</text>
<text x="599.00" y="344.70" font-size="10.2" fill="#222" stroke="#222" stroke-width="0.1" textLength="10.80" lengthAdjust="spacingAndGlyphs">Lp</text>
<text x="599.00" y="415.30" font-size="10.2" fill="#222" stroke="#222" stroke-width="0.1" textLength="40.40" lengthAdjust="spacingAndGlyphs">PDHc-E2</text>
<text x="599.00" y="441.20" font-size="10.2" fill="#222" stroke="#222" stroke-width="0.1" textLength="50.50" lengthAdjust="spacingAndGlyphs">OGDHc-E2</text>
<text x="599.00" y="465.50" font-size="10.2" fill="#222" stroke="#222" stroke-width="0.1" textLength="28.80" lengthAdjust="spacingAndGlyphs">GCDH</text>
<text x="599.00" y="490.40" font-size="10.2" fill="#222" stroke="#222" stroke-width="0.1" textLength="35.00" lengthAdjust="spacingAndGlyphs">ABHD11</text>
<text x="599.00" y="515.70" font-size="10.2" fill="#222" stroke="#222" stroke-width="0.1" textLength="33.50" lengthAdjust="spacingAndGlyphs">β-Actin</text>
<path d="M599 353.7 L605.6 349.8 L605.6 357.6 Z" fill="#111"/>
<text x="610.60" y="356.70" font-size="10.2" fill="#222" stroke="#222" stroke-width="0.1" textLength="40.40" lengthAdjust="spacingAndGlyphs">PDHc-E2</text>
<path d="M599 384.6 L605.6 380.7 L605.6 388.5 Z" fill="#111"/>
<text x="610.60" y="387.60" font-size="10.2" fill="#222" stroke="#222" stroke-width="0.1" textLength="50.50" lengthAdjust="spacingAndGlyphs">OGDHc-E2</text>
<text x="521.80" y="533.00" font-size="10" fill="#222" stroke="#222" stroke-width="0.1" textLength="48.40" lengthAdjust="spacingAndGlyphs">HeLa cells</text>
<path d="M232.9 45.2 V35.8 H241.5" stroke="#3b4a66" stroke-width="1.3" fill="none"/>
<path d="M240.6 33.2 L244.6 35.8 L240.6 38.4 Z" fill="#3b4a66"/>
<text x="230.40" y="30.80" font-size="8.2" fill="#222" stroke="#222" stroke-width="0.1" textLength="15.60" lengthAdjust="spacingAndGlyphs">HRE</text>
<text x="264.60" y="25.20" font-size="10.2" fill="#222" stroke="#222" stroke-width="0.1" textLength="41.20" lengthAdjust="spacingAndGlyphs">HRE-GFP</text>
<text x="306.20" y="20.80" font-size="6.6" fill="#222" stroke="#222" stroke-width="0.1" textLength="15.40" lengthAdjust="spacingAndGlyphs">ODD</text>
<ellipse cx="323.5" cy="43.7" rx="36.8" ry="8.3" fill="#d3ded8" stroke="#6d7772" stroke-width="0.8"/>
<ellipse cx="263.4" cy="43.7" rx="22.5" ry="8.3" fill="#22c47c" stroke="#2c5e45" stroke-width="0.8"/>
<text x="263.00" y="47.40" font-size="10.8" text-anchor="middle" fill="#111" stroke="#111" stroke-width="0.1" textLength="18.80" lengthAdjust="spacingAndGlyphs">GFP</text>
<text x="323.30" y="47.40" font-size="10.8" text-anchor="middle" fill="#111" stroke="#111" stroke-width="0.1" textLength="53.60" lengthAdjust="spacingAndGlyphs">HIF-1α ODD</text>
<rect x="265.9" y="59.4" width="7.4" height="7.8" fill="#eaeaea" stroke="#b9b9b9" stroke-width="1"/>
<text x="279.00" y="66.50" font-size="9.2" fill="#222" stroke="#222" stroke-width="0.1" textLength="29.20" lengthAdjust="spacingAndGlyphs">Vehicle</text>
<rect x="316.6" y="59.4" width="7.4" height="7.8" fill="#fcd7d9" stroke="#ee4a52" stroke-width="1"/>
<text x="329.70" y="66.50" font-size="9.2" fill="#222" stroke="#222" stroke-width="0.1" textLength="26.10" lengthAdjust="spacingAndGlyphs">ML226</text>
<rect x="365.2" y="59.4" width="7.4" height="7.8" fill="#fde9d6" stroke="#f6a65a" stroke-width="1"/>
<text x="378.70" y="66.50" font-size="9.2" fill="#222" stroke="#222" stroke-width="0.1" textLength="17.30" lengthAdjust="spacingAndGlyphs">DEG</text>
<rect x="404.9" y="59.4" width="7.4" height="7.8" fill="#e6d3fb" stroke="#9a45ec" stroke-width="1"/>
<text x="418.50" y="66.50" font-size="9.2" fill="#222" stroke="#222" stroke-width="0.1" textLength="33.60" lengthAdjust="spacingAndGlyphs">DM-2OG</text>
<rect x="463.8" y="59.4" width="7.4" height="7.8" fill="#e0ecfb" stroke="#a9ccf3" stroke-width="1"/>
<text x="477.30" y="66.50" font-size="9.2" fill="#222" stroke="#222" stroke-width="0.1" textLength="25.70" lengthAdjust="spacingAndGlyphs">DMOG</text>
<line x1="270.50" y1="72.30" x2="270.50" y2="182.50" stroke="#444" stroke-width="1"/>
<line x1="266.80" y1="182.30" x2="270.40" y2="182.30" stroke="#444" stroke-width="0.8"/>
<line x1="268.60" y1="177.08" x2="270.40" y2="177.08" stroke="#444" stroke-width="0.8"/>
<line x1="268.60" y1="171.85" x2="270.40" y2="171.85" stroke="#444" stroke-width="0.8"/>
<line x1="268.60" y1="166.62" x2="270.40" y2="166.62" stroke="#444" stroke-width="0.8"/>
<line x1="266.80" y1="161.40" x2="270.40" y2="161.40" stroke="#444" stroke-width="0.8"/>
<line x1="268.60" y1="156.18" x2="270.40" y2="156.18" stroke="#444" stroke-width="0.8"/>
<line x1="268.60" y1="150.95" x2="270.40" y2="150.95" stroke="#444" stroke-width="0.8"/>
<line x1="268.60" y1="145.73" x2="270.40" y2="145.73" stroke="#444" stroke-width="0.8"/>
<line x1="266.80" y1="140.50" x2="270.40" y2="140.50" stroke="#444" stroke-width="0.8"/>
<line x1="268.60" y1="135.28" x2="270.40" y2="135.28" stroke="#444" stroke-width="0.8"/>
<line x1="268.60" y1="130.05" x2="270.40" y2="130.05" stroke="#444" stroke-width="0.8"/>
<line x1="268.60" y1="124.83" x2="270.40" y2="124.83" stroke="#444" stroke-width="0.8"/>
<line x1="266.80" y1="119.60" x2="270.40" y2="119.60" stroke="#444" stroke-width="0.8"/>
<line x1="268.60" y1="114.38" x2="270.40" y2="114.38" stroke="#444" stroke-width="0.8"/>
<line x1="268.60" y1="109.15" x2="270.40" y2="109.15" stroke="#444" stroke-width="0.8"/>
<line x1="268.60" y1="103.93" x2="270.40" y2="103.93" stroke="#444" stroke-width="0.8"/>
<line x1="266.80" y1="98.70" x2="270.40" y2="98.70" stroke="#444" stroke-width="0.8"/>
<line x1="268.60" y1="93.48" x2="270.40" y2="93.48" stroke="#444" stroke-width="0.8"/>
<line x1="268.60" y1="88.25" x2="270.40" y2="88.25" stroke="#444" stroke-width="0.8"/>
<line x1="268.60" y1="83.03" x2="270.40" y2="83.03" stroke="#444" stroke-width="0.8"/>
<line x1="266.80" y1="77.80" x2="270.40" y2="77.80" stroke="#444" stroke-width="0.8"/>
<line x1="268.60" y1="72.60" x2="270.40" y2="72.60" stroke="#444" stroke-width="0.8"/>
<text x="262.80" y="185.50" font-size="9.0" text-anchor="end" fill="#222" stroke="#222" stroke-width="0.1" textLength="5.41" lengthAdjust="spacingAndGlyphs">0</text>
<text x="262.80" y="164.60" font-size="9.0" text-anchor="end" fill="#222" stroke="#222" stroke-width="0.1" textLength="10.81" lengthAdjust="spacingAndGlyphs">20</text>
<text x="262.80" y="143.70" font-size="9.0" text-anchor="end" fill="#222" stroke="#222" stroke-width="0.1" textLength="10.81" lengthAdjust="spacingAndGlyphs">40</text>
<text x="262.80" y="122.80" font-size="9.0" text-anchor="end" fill="#222" stroke="#222" stroke-width="0.1" textLength="10.81" lengthAdjust="spacingAndGlyphs">60</text>
<text x="262.80" y="101.90" font-size="9.0" text-anchor="end" fill="#222" stroke="#222" stroke-width="0.1" textLength="10.81" lengthAdjust="spacingAndGlyphs">80</text>
<text x="262.80" y="81.00" font-size="9.0" text-anchor="end" fill="#222" stroke="#222" stroke-width="0.1" textLength="16.22" lengthAdjust="spacingAndGlyphs">100</text>
<line x1="269.90" y1="182.50" x2="380.40" y2="182.50" stroke="#333" stroke-width="1"/>
<line x1="272.49" y1="182.50" x2="272.49" y2="184.00" stroke="#333" stroke-width="0.6"/>
<line x1="274.66" y1="182.50" x2="274.66" y2="184.00" stroke="#333" stroke-width="0.6"/>
<line x1="276.43" y1="182.50" x2="276.43" y2="184.00" stroke="#333" stroke-width="0.6"/>
<line x1="277.93" y1="182.50" x2="277.93" y2="184.00" stroke="#333" stroke-width="0.6"/>
<line x1="279.23" y1="182.50" x2="279.23" y2="184.00" stroke="#333" stroke-width="0.6"/>
<line x1="280.38" y1="182.50" x2="280.38" y2="184.00" stroke="#333" stroke-width="0.6"/>
<line x1="281.40" y1="182.50" x2="281.40" y2="185.30" stroke="#333" stroke-width="0.8"/>
<line x1="288.14" y1="182.50" x2="288.14" y2="184.00" stroke="#333" stroke-width="0.6"/>
<line x1="292.09" y1="182.50" x2="292.09" y2="184.00" stroke="#333" stroke-width="0.6"/>
<line x1="294.89" y1="182.50" x2="294.89" y2="184.00" stroke="#333" stroke-width="0.6"/>
<line x1="297.06" y1="182.50" x2="297.06" y2="184.00" stroke="#333" stroke-width="0.6"/>
<line x1="298.83" y1="182.50" x2="298.83" y2="184.00" stroke="#333" stroke-width="0.6"/>
<line x1="300.33" y1="182.50" x2="300.33" y2="184.00" stroke="#333" stroke-width="0.6"/>
<line x1="301.63" y1="182.50" x2="301.63" y2="184.00" stroke="#333" stroke-width="0.6"/>
<line x1="302.78" y1="182.50" x2="302.78" y2="184.00" stroke="#333" stroke-width="0.6"/>
<line x1="303.80" y1="182.50" x2="303.80" y2="185.30" stroke="#333" stroke-width="0.8"/>
<line x1="310.54" y1="182.50" x2="310.54" y2="184.00" stroke="#333" stroke-width="0.6"/>
<line x1="314.49" y1="182.50" x2="314.49" y2="184.00" stroke="#333" stroke-width="0.6"/>
<line x1="317.29" y1="182.50" x2="317.29" y2="184.00" stroke="#333" stroke-width="0.6"/>
<line x1="319.46" y1="182.50" x2="319.46" y2="184.00" stroke="#333" stroke-width="0.6"/>
<line x1="321.23" y1="182.50" x2="321.23" y2="184.00" stroke="#333" stroke-width="0.6"/>
<line x1="322.73" y1="182.50" x2="322.73" y2="184.00" stroke="#333" stroke-width="0.6"/>
<line x1="324.03" y1="182.50" x2="324.03" y2="184.00" stroke="#333" stroke-width="0.6"/>
<line x1="325.18" y1="182.50" x2="325.18" y2="184.00" stroke="#333" stroke-width="0.6"/>
<line x1="326.20" y1="182.50" x2="326.20" y2="185.30" stroke="#333" stroke-width="0.8"/>
<line x1="332.94" y1="182.50" x2="332.94" y2="184.00" stroke="#333" stroke-width="0.6"/>
<line x1="336.89" y1="182.50" x2="336.89" y2="184.00" stroke="#333" stroke-width="0.6"/>
<line x1="339.69" y1="182.50" x2="339.69" y2="184.00" stroke="#333" stroke-width="0.6"/>
<line x1="341.86" y1="182.50" x2="341.86" y2="184.00" stroke="#333" stroke-width="0.6"/>
<line x1="343.63" y1="182.50" x2="343.63" y2="184.00" stroke="#333" stroke-width="0.6"/>
<line x1="345.13" y1="182.50" x2="345.13" y2="184.00" stroke="#333" stroke-width="0.6"/>
<line x1="346.43" y1="182.50" x2="346.43" y2="184.00" stroke="#333" stroke-width="0.6"/>
<line x1="347.58" y1="182.50" x2="347.58" y2="184.00" stroke="#333" stroke-width="0.6"/>
<line x1="348.60" y1="182.50" x2="348.60" y2="185.30" stroke="#333" stroke-width="0.8"/>
<line x1="355.34" y1="182.50" x2="355.34" y2="184.00" stroke="#333" stroke-width="0.6"/>
<line x1="359.29" y1="182.50" x2="359.29" y2="184.00" stroke="#333" stroke-width="0.6"/>
<line x1="362.09" y1="182.50" x2="362.09" y2="184.00" stroke="#333" stroke-width="0.6"/>
<line x1="364.26" y1="182.50" x2="364.26" y2="184.00" stroke="#333" stroke-width="0.6"/>
<line x1="366.03" y1="182.50" x2="366.03" y2="184.00" stroke="#333" stroke-width="0.6"/>
<line x1="367.53" y1="182.50" x2="367.53" y2="184.00" stroke="#333" stroke-width="0.6"/>
<line x1="368.83" y1="182.50" x2="368.83" y2="184.00" stroke="#333" stroke-width="0.6"/>
<line x1="369.98" y1="182.50" x2="369.98" y2="184.00" stroke="#333" stroke-width="0.6"/>
<line x1="371.00" y1="182.50" x2="371.00" y2="185.30" stroke="#333" stroke-width="0.8"/>
<line x1="377.74" y1="182.50" x2="377.74" y2="184.00" stroke="#333" stroke-width="0.6"/>
<text x="280.60" y="197.80" font-size="8.6" text-anchor="middle" fill="#222" stroke="#222" stroke-width="0.1" textLength="8.60" lengthAdjust="spacingAndGlyphs">10</text>
<text x="285.40" y="194.60" font-size="5.8" fill="#222" stroke="#222" stroke-width="0.1" textLength="3.06" lengthAdjust="spacingAndGlyphs">1</text>
<text x="303.00" y="197.80" font-size="8.6" text-anchor="middle" fill="#222" stroke="#222" stroke-width="0.1" textLength="8.60" lengthAdjust="spacingAndGlyphs">10</text>
<text x="307.80" y="194.60" font-size="5.8" fill="#222" stroke="#222" stroke-width="0.1" textLength="3.06" lengthAdjust="spacingAndGlyphs">2</text>
<text x="325.40" y="197.80" font-size="8.6" text-anchor="middle" fill="#222" stroke="#222" stroke-width="0.1" textLength="8.60" lengthAdjust="spacingAndGlyphs">10</text>
<text x="330.20" y="194.60" font-size="5.8" fill="#222" stroke="#222" stroke-width="0.1" textLength="3.06" lengthAdjust="spacingAndGlyphs">3</text>
<text x="347.80" y="197.80" font-size="8.6" text-anchor="middle" fill="#222" stroke="#222" stroke-width="0.1" textLength="8.60" lengthAdjust="spacingAndGlyphs">10</text>
<text x="352.60" y="194.60" font-size="5.8" fill="#222" stroke="#222" stroke-width="0.1" textLength="3.06" lengthAdjust="spacingAndGlyphs">4</text>
<text x="370.20" y="197.80" font-size="8.6" text-anchor="middle" fill="#222" stroke="#222" stroke-width="0.1" textLength="8.60" lengthAdjust="spacingAndGlyphs">10</text>
<text x="375.00" y="194.60" font-size="5.8" fill="#222" stroke="#222" stroke-width="0.1" textLength="3.06" lengthAdjust="spacingAndGlyphs">5</text>
<line x1="391.50" y1="72.30" x2="391.50" y2="182.50" stroke="#444" stroke-width="1"/>
<line x1="388.30" y1="182.30" x2="391.90" y2="182.30" stroke="#444" stroke-width="0.8"/>
<line x1="390.10" y1="177.08" x2="391.90" y2="177.08" stroke="#444" stroke-width="0.8"/>
<line x1="390.10" y1="171.85" x2="391.90" y2="171.85" stroke="#444" stroke-width="0.8"/>
<line x1="390.10" y1="166.62" x2="391.90" y2="166.62" stroke="#444" stroke-width="0.8"/>
<line x1="388.30" y1="161.40" x2="391.90" y2="161.40" stroke="#444" stroke-width="0.8"/>
<line x1="390.10" y1="156.18" x2="391.90" y2="156.18" stroke="#444" stroke-width="0.8"/>
<line x1="390.10" y1="150.95" x2="391.90" y2="150.95" stroke="#444" stroke-width="0.8"/>
<line x1="390.10" y1="145.73" x2="391.90" y2="145.73" stroke="#444" stroke-width="0.8"/>
<line x1="388.30" y1="140.50" x2="391.90" y2="140.50" stroke="#444" stroke-width="0.8"/>
<line x1="390.10" y1="135.28" x2="391.90" y2="135.28" stroke="#444" stroke-width="0.8"/>
<line x1="390.10" y1="130.05" x2="391.90" y2="130.05" stroke="#444" stroke-width="0.8"/>
<line x1="390.10" y1="124.83" x2="391.90" y2="124.83" stroke="#444" stroke-width="0.8"/>
<line x1="388.30" y1="119.60" x2="391.90" y2="119.60" stroke="#444" stroke-width="0.8"/>
<line x1="390.10" y1="114.38" x2="391.90" y2="114.38" stroke="#444" stroke-width="0.8"/>
<line x1="390.10" y1="109.15" x2="391.90" y2="109.15" stroke="#444" stroke-width="0.8"/>
<line x1="390.10" y1="103.93" x2="391.90" y2="103.93" stroke="#444" stroke-width="0.8"/>
<line x1="388.30" y1="98.70" x2="391.90" y2="98.70" stroke="#444" stroke-width="0.8"/>
<line x1="390.10" y1="93.48" x2="391.90" y2="93.48" stroke="#444" stroke-width="0.8"/>
<line x1="390.10" y1="88.25" x2="391.90" y2="88.25" stroke="#444" stroke-width="0.8"/>
<line x1="390.10" y1="83.03" x2="391.90" y2="83.03" stroke="#444" stroke-width="0.8"/>
<line x1="388.30" y1="77.80" x2="391.90" y2="77.80" stroke="#444" stroke-width="0.8"/>
<line x1="390.10" y1="72.60" x2="391.90" y2="72.60" stroke="#444" stroke-width="0.8"/>
<line x1="391.40" y1="182.50" x2="502.00" y2="182.50" stroke="#333" stroke-width="1"/>
<line x1="394.01" y1="182.50" x2="394.01" y2="184.00" stroke="#333" stroke-width="0.6"/>
<line x1="396.17" y1="182.50" x2="396.17" y2="184.00" stroke="#333" stroke-width="0.6"/>
<line x1="397.94" y1="182.50" x2="397.94" y2="184.00" stroke="#333" stroke-width="0.6"/>
<line x1="399.44" y1="182.50" x2="399.44" y2="184.00" stroke="#333" stroke-width="0.6"/>
<line x1="400.73" y1="182.50" x2="400.73" y2="184.00" stroke="#333" stroke-width="0.6"/>
<line x1="401.88" y1="182.50" x2="401.88" y2="184.00" stroke="#333" stroke-width="0.6"/>
<line x1="402.90" y1="182.50" x2="402.90" y2="185.30" stroke="#333" stroke-width="0.8"/>
<line x1="409.63" y1="182.50" x2="409.63" y2="184.00" stroke="#333" stroke-width="0.6"/>
<line x1="413.56" y1="182.50" x2="413.56" y2="184.00" stroke="#333" stroke-width="0.6"/>
<line x1="416.36" y1="182.50" x2="416.36" y2="184.00" stroke="#333" stroke-width="0.6"/>
<line x1="418.52" y1="182.50" x2="418.52" y2="184.00" stroke="#333" stroke-width="0.6"/>
<line x1="420.29" y1="182.50" x2="420.29" y2="184.00" stroke="#333" stroke-width="0.6"/>
<line x1="421.79" y1="182.50" x2="421.79" y2="184.00" stroke="#333" stroke-width="0.6"/>
<line x1="423.08" y1="182.50" x2="423.08" y2="184.00" stroke="#333" stroke-width="0.6"/>
<line x1="424.23" y1="182.50" x2="424.23" y2="184.00" stroke="#333" stroke-width="0.6"/>
<line x1="425.25" y1="182.50" x2="425.25" y2="185.30" stroke="#333" stroke-width="0.8"/>
<line x1="431.98" y1="182.50" x2="431.98" y2="184.00" stroke="#333" stroke-width="0.6"/>
<line x1="435.91" y1="182.50" x2="435.91" y2="184.00" stroke="#333" stroke-width="0.6"/>
<line x1="438.71" y1="182.50" x2="438.71" y2="184.00" stroke="#333" stroke-width="0.6"/>
<line x1="440.87" y1="182.50" x2="440.87" y2="184.00" stroke="#333" stroke-width="0.6"/>
<line x1="442.64" y1="182.50" x2="442.64" y2="184.00" stroke="#333" stroke-width="0.6"/>
<line x1="444.14" y1="182.50" x2="444.14" y2="184.00" stroke="#333" stroke-width="0.6"/>
<line x1="445.43" y1="182.50" x2="445.43" y2="184.00" stroke="#333" stroke-width="0.6"/>
<line x1="446.58" y1="182.50" x2="446.58" y2="184.00" stroke="#333" stroke-width="0.6"/>
<line x1="447.60" y1="182.50" x2="447.60" y2="185.30" stroke="#333" stroke-width="0.8"/>
<line x1="454.33" y1="182.50" x2="454.33" y2="184.00" stroke="#333" stroke-width="0.6"/>
<line x1="458.26" y1="182.50" x2="458.26" y2="184.00" stroke="#333" stroke-width="0.6"/>
<line x1="461.06" y1="182.50" x2="461.06" y2="184.00" stroke="#333" stroke-width="0.6"/>
<line x1="463.22" y1="182.50" x2="463.22" y2="184.00" stroke="#333" stroke-width="0.6"/>
<line x1="464.99" y1="182.50" x2="464.99" y2="184.00" stroke="#333" stroke-width="0.6"/>
<line x1="466.49" y1="182.50" x2="466.49" y2="184.00" stroke="#333" stroke-width="0.6"/>
<line x1="467.78" y1="182.50" x2="467.78" y2="184.00" stroke="#333" stroke-width="0.6"/>
<line x1="468.93" y1="182.50" x2="468.93" y2="184.00" stroke="#333" stroke-width="0.6"/>
<line x1="469.95" y1="182.50" x2="469.95" y2="185.30" stroke="#333" stroke-width="0.8"/>
<line x1="476.68" y1="182.50" x2="476.68" y2="184.00" stroke="#333" stroke-width="0.6"/>
<line x1="480.61" y1="182.50" x2="480.61" y2="184.00" stroke="#333" stroke-width="0.6"/>
<line x1="483.41" y1="182.50" x2="483.41" y2="184.00" stroke="#333" stroke-width="0.6"/>
<line x1="485.57" y1="182.50" x2="485.57" y2="184.00" stroke="#333" stroke-width="0.6"/>
<line x1="487.34" y1="182.50" x2="487.34" y2="184.00" stroke="#333" stroke-width="0.6"/>
<line x1="488.84" y1="182.50" x2="488.84" y2="184.00" stroke="#333" stroke-width="0.6"/>
<line x1="490.13" y1="182.50" x2="490.13" y2="184.00" stroke="#333" stroke-width="0.6"/>
<line x1="491.28" y1="182.50" x2="491.28" y2="184.00" stroke="#333" stroke-width="0.6"/>
<line x1="492.30" y1="182.50" x2="492.30" y2="185.30" stroke="#333" stroke-width="0.8"/>
<line x1="499.03" y1="182.50" x2="499.03" y2="184.00" stroke="#333" stroke-width="0.6"/>
<text x="402.10" y="197.80" font-size="8.6" text-anchor="middle" fill="#222" stroke="#222" stroke-width="0.1" textLength="8.60" lengthAdjust="spacingAndGlyphs">10</text>
<text x="406.90" y="194.60" font-size="5.8" fill="#222" stroke="#222" stroke-width="0.1" textLength="3.06" lengthAdjust="spacingAndGlyphs">1</text>
<text x="424.45" y="197.80" font-size="8.6" text-anchor="middle" fill="#222" stroke="#222" stroke-width="0.1" textLength="8.60" lengthAdjust="spacingAndGlyphs">10</text>
<text x="429.25" y="194.60" font-size="5.8" fill="#222" stroke="#222" stroke-width="0.1" textLength="3.06" lengthAdjust="spacingAndGlyphs">2</text>
<text x="446.80" y="197.80" font-size="8.6" text-anchor="middle" fill="#222" stroke="#222" stroke-width="0.1" textLength="8.60" lengthAdjust="spacingAndGlyphs">10</text>
<text x="451.60" y="194.60" font-size="5.8" fill="#222" stroke="#222" stroke-width="0.1" textLength="3.06" lengthAdjust="spacingAndGlyphs">3</text>
<text x="469.15" y="197.80" font-size="8.6" text-anchor="middle" fill="#222" stroke="#222" stroke-width="0.1" textLength="8.60" lengthAdjust="spacingAndGlyphs">10</text>
<text x="473.95" y="194.60" font-size="5.8" fill="#222" stroke="#222" stroke-width="0.1" textLength="3.06" lengthAdjust="spacingAndGlyphs">4</text>
<text x="491.50" y="197.80" font-size="8.6" text-anchor="middle" fill="#222" stroke="#222" stroke-width="0.1" textLength="8.60" lengthAdjust="spacingAndGlyphs">10</text>
<text x="496.30" y="194.60" font-size="5.8" fill="#222" stroke="#222" stroke-width="0.1" textLength="3.06" lengthAdjust="spacingAndGlyphs">5</text>
<path d="M285.40 182.30 L291.50 179.79 L295.80 172.06 L299.10 147.29 L301.00 130.05 L302.40 122.32 L303.70 103.93 L305.30 85.95 L306.10 90.34 L307.10 92.12 L308.00 122.74 L310.00 141.96 L311.60 158.27 L313.20 172.06 L316.50 179.79 L320.40 181.78 L325.40 182.30 Z" fill="#d9d9d9" fill-opacity="0.55" stroke="none"/>
<path d="M330.40 182.30 L338.70 179.58 L344.10 174.25 L347.40 159.31 L349.00 136.53 L350.10 120.65 L351.30 106.02 L352.50 93.48 L354.20 79.68 L355.00 89.30 L356.30 92.43 L357.50 106.02 L358.70 120.65 L359.80 141.96 L361.50 163.49 L363.10 176.45 L366.90 181.26 L370.40 182.30 Z" fill="#d6e8fb" fill-opacity="0.4" stroke="none"/>
<path d="M282.40 182.30 L288.40 181.26 L295.80 179.69 L302.40 177.49 L306.70 168.92 L310.00 152.62 L312.70 136.53 L315.40 120.65 L316.70 110.40 L318.40 110.40 L319.50 116.47 L320.90 122.74 L321.90 124.30 L322.80 124.83 L323.80 122.74 L325.90 116.47 L328.40 104.13 L330.00 102.88 L330.70 104.45 L331.30 103.40 L332.10 97.66 L333.30 89.30 L334.20 88.25 L335.40 85.95 L337.50 82.61 L338.30 87.62 L338.80 92.64 L340.40 95.04 L340.90 100.89 L342.10 105.81 L343.40 114.06 L344.00 122.53 L345.20 141.96 L347.40 158.27 L349.50 169.97 L352.80 178.64 L357.10 180.73 L362.00 181.78 L370.40 182.30 Z" fill="#c9a6f7" fill-opacity="0.45" stroke="none"/>
<path d="M270.70 182.30 L282.40 182.30 L290.00 181.78 L295.80 180.73 L301.30 177.49 L305.00 165.68 L306.70 141.96 L308.30 120.65 L310.20 98.70 L312.40 80.94 L313.50 90.34 L315.90 120.65 L317.50 141.96 L319.70 161.40 L321.90 168.92 L325.10 173.21 L328.40 174.57 L331.60 173.21 L333.30 173.21 L336.50 174.78 L338.70 174.25 L341.90 176.45 L345.20 178.64 L349.50 181.26 L353.00 181.99 L360.40 182.30 L380.40 182.30 Z" fill="#f06a8a" fill-opacity="0.35" stroke="none"/>
<path d="M285.40 182.30 L291.50 179.79 L295.80 172.06 L299.10 147.29 L301.00 130.05 L302.40 122.32 L303.70 103.93 L305.30 85.95 L306.10 90.34 L307.10 92.12 L308.00 122.74 L310.00 141.96 L311.60 158.27 L313.20 172.06 L316.50 179.79 L320.40 181.78 L325.40 182.30" fill="none" stroke="#a8a8a8" stroke-width="0.8" stroke-linejoin="round"/>
<path d="M330.40 182.30 L338.70 179.58 L344.10 174.25 L347.40 159.31 L349.00 136.53 L350.10 120.65 L351.30 106.02 L352.50 93.48 L354.20 79.68 L355.00 89.30 L356.30 92.43 L357.50 106.02 L358.70 120.65 L359.80 141.96 L361.50 163.49 L363.10 176.45 L366.90 181.26 L370.40 182.30" fill="none" stroke="#9fc8f3" stroke-width="0.9" stroke-linejoin="round"/>
<path d="M282.40 182.30 L288.40 181.26 L295.80 179.69 L302.40 177.49 L306.70 168.92 L310.00 152.62 L312.70 136.53 L315.40 120.65 L316.70 110.40 L318.40 110.40 L319.50 116.47 L320.90 122.74 L321.90 124.30 L322.80 124.83 L323.80 122.74 L325.90 116.47 L328.40 104.13 L330.00 102.88 L330.70 104.45 L331.30 103.40 L332.10 97.66 L333.30 89.30 L334.20 88.25 L335.40 85.95 L337.50 82.61 L338.30 87.62 L338.80 92.64 L340.40 95.04 L340.90 100.89 L342.10 105.81 L343.40 114.06 L344.00 122.53 L345.20 141.96 L347.40 158.27 L349.50 169.97 L352.80 178.64 L357.10 180.73 L362.00 181.78 L370.40 182.30" fill="none" stroke="#9d3bf0" stroke-width="1.1" stroke-linejoin="round"/>
<path d="M270.70 182.30 L282.40 182.30 L290.00 181.78 L295.80 180.73 L301.30 177.49 L305.00 165.68 L306.70 141.96 L308.30 120.65 L310.20 98.70 L312.40 80.94 L313.50 90.34 L315.90 120.65 L317.50 141.96 L319.70 161.40 L321.90 168.92 L325.10 173.21 L328.40 174.57 L331.60 173.21 L333.30 173.21 L336.50 174.78 L338.70 174.25 L341.90 176.45 L345.20 178.64 L349.50 181.26 L353.00 181.99 L360.40 182.30 L380.40 182.30" fill="none" stroke="#f03a3f" stroke-width="1.0" stroke-linejoin="round"/>
<path d="M406.90 182.30 L413.00 179.79 L417.30 172.06 L420.60 147.29 L422.50 130.05 L423.90 122.32 L425.20 103.93 L426.80 85.95 L427.60 90.34 L428.60 92.12 L429.50 122.74 L431.50 141.96 L433.10 158.27 L434.70 172.06 L438.00 179.79 L441.90 181.78 L446.90 182.30 Z" fill="#d9d9d9" fill-opacity="0.55" stroke="none"/>
<path d="M451.90 182.30 L460.20 179.58 L465.60 174.25 L468.90 159.31 L470.50 136.53 L471.60 120.65 L472.80 106.02 L474.00 93.48 L475.70 79.68 L476.50 89.30 L477.80 92.43 L479.00 106.02 L480.20 120.65 L481.30 141.96 L483.00 163.49 L484.60 176.45 L488.40 181.26 L491.90 182.30 Z" fill="#d6e8fb" fill-opacity="0.4" stroke="none"/>
<path d="M403.90 182.30 L409.90 181.26 L417.30 179.69 L423.90 177.49 L428.20 168.92 L431.50 152.62 L434.20 136.53 L436.90 120.65 L438.20 110.40 L439.90 110.40 L441.00 116.47 L442.40 122.74 L443.40 124.30 L444.30 124.83 L445.30 122.74 L447.40 116.47 L449.90 104.13 L451.50 102.88 L452.20 104.45 L452.80 103.40 L453.60 97.66 L454.80 89.30 L455.70 88.25 L456.90 85.95 L459.00 82.61 L459.80 87.62 L460.30 92.64 L461.90 95.04 L462.40 100.89 L463.60 105.81 L464.90 114.06 L465.50 122.53 L466.70 141.96 L468.90 158.27 L471.00 169.97 L474.30 178.64 L478.60 180.73 L483.50 181.78 L491.90 182.30 Z" fill="#c9a6f7" fill-opacity="0.45" stroke="none"/>
<path d="M406.90 182.30 L413.40 180.21 L417.70 172.90 L421.10 150.95 L423.10 132.14 L424.50 122.74 L425.90 103.93 L427.30 88.25 L428.30 87.52 L429.20 93.48 L430.10 109.15 L431.10 122.74 L432.90 145.73 L434.50 163.49 L436.40 174.99 L439.90 180.73 L443.90 182.30 Z" fill="#d8b48a" fill-opacity="0.45" stroke="none"/>
<path d="M406.90 182.30 L413.00 179.79 L417.30 172.06 L420.60 147.29 L422.50 130.05 L423.90 122.32 L425.20 103.93 L426.80 85.95 L427.60 90.34 L428.60 92.12 L429.50 122.74 L431.50 141.96 L433.10 158.27 L434.70 172.06 L438.00 179.79 L441.90 181.78 L446.90 182.30" fill="none" stroke="#a8a8a8" stroke-width="0.8" stroke-linejoin="round"/>
<path d="M451.90 182.30 L460.20 179.58 L465.60 174.25 L468.90 159.31 L470.50 136.53 L471.60 120.65 L472.80 106.02 L474.00 93.48 L475.70 79.68 L476.50 89.30 L477.80 92.43 L479.00 106.02 L480.20 120.65 L481.30 141.96 L483.00 163.49 L484.60 176.45 L488.40 181.26 L491.90 182.30" fill="none" stroke="#9fc8f3" stroke-width="0.9" stroke-linejoin="round"/>
<path d="M403.90 182.30 L409.90 181.26 L417.30 179.69 L423.90 177.49 L428.20 168.92 L431.50 152.62 L434.20 136.53 L436.90 120.65 L438.20 110.40 L439.90 110.40 L441.00 116.47 L442.40 122.74 L443.40 124.30 L444.30 124.83 L445.30 122.74 L447.40 116.47 L449.90 104.13 L451.50 102.88 L452.20 104.45 L452.80 103.40 L453.60 97.66 L454.80 89.30 L455.70 88.25 L456.90 85.95 L459.00 82.61 L459.80 87.62 L460.30 92.64 L461.90 95.04 L462.40 100.89 L463.60 105.81 L464.90 114.06 L465.50 122.53 L466.70 141.96 L468.90 158.27 L471.00 169.97 L474.30 178.64 L478.60 180.73 L483.50 181.78 L491.90 182.30" fill="none" stroke="#9d3bf0" stroke-width="1.1" stroke-linejoin="round"/>
<path d="M406.90 182.30 L413.40 180.21 L417.70 172.90 L421.10 150.95 L423.10 132.14 L424.50 122.74 L425.90 103.93 L427.30 88.25 L428.30 87.52 L429.20 93.48 L430.10 109.15 L431.10 122.74 L432.90 145.73 L434.50 163.49 L436.40 174.99 L439.90 180.73 L443.90 182.30" fill="none" stroke="#f5a04a" stroke-width="1.0" stroke-linejoin="round"/>
<text x="273.00" y="83.00" font-size="7.6" fill="#f26d72" stroke="#f26d72" stroke-width="0.1" textLength="26.50" lengthAdjust="spacingAndGlyphs">ML226</text>
<text x="394.60" y="82.90" font-size="7.6" fill="#f8a150" stroke="#f8a150" stroke-width="0.1" textLength="17.10" lengthAdjust="spacingAndGlyphs">DEG</text>
<text transform="translate(230.70,126.90) rotate(-90)" font-size="9.6" text-anchor="middle" fill="#222" stroke="#222" stroke-width="0.1" textLength="49.60" lengthAdjust="spacingAndGlyphs">Frequency</text>
<text transform="translate(241.60,127.40) rotate(-90)" font-size="9.6" text-anchor="middle" fill="#222" stroke="#222" stroke-width="0.1" textLength="83.40" lengthAdjust="spacingAndGlyphs">(relative to mode)</text>
<text x="332.10" y="217.20" font-size="9.3" fill="#222" stroke="#222" stroke-width="0.1" textLength="110.00" lengthAdjust="spacingAndGlyphs">GFP fluorescence (a.u.)</text>
<text x="563.10" y="80.20" font-size="9.9" fill="#222" stroke="#222" stroke-width="0.1" textLength="41.80" lengthAdjust="spacingAndGlyphs">HRE-GFP</text>
<text x="604.90" y="75.60" font-size="6.5" fill="#222" stroke="#222" stroke-width="0.1" textLength="15.40" lengthAdjust="spacingAndGlyphs">ODD</text>
<line x1="562.50" y1="84.60" x2="562.50" y2="182.00" stroke="#555" stroke-width="1"/>
<line x1="559.40" y1="96.50" x2="562.80" y2="96.50" stroke="#555" stroke-width="0.9"/>
<line x1="559.40" y1="114.50" x2="562.80" y2="114.50" stroke="#555" stroke-width="0.9"/>
<line x1="559.40" y1="132.50" x2="562.80" y2="132.50" stroke="#555" stroke-width="0.9"/>
<line x1="559.40" y1="151.50" x2="562.80" y2="151.50" stroke="#555" stroke-width="0.9"/>
<line x1="559.40" y1="169.50" x2="562.80" y2="169.50" stroke="#555" stroke-width="0.9"/>
<text x="554.60" y="100.20" font-size="10.0" text-anchor="end" fill="#222" stroke="#222" stroke-width="0.1" textLength="35.50" lengthAdjust="spacingAndGlyphs">Vehicle</text>
<text x="554.60" y="118.60" font-size="10.0" text-anchor="end" fill="#222" stroke="#222" stroke-width="0.1" textLength="31.80" lengthAdjust="spacingAndGlyphs">ML226</text>
<text x="554.60" y="135.80" font-size="10.0" text-anchor="end" fill="#222" stroke="#222" stroke-width="0.1" textLength="20.50" lengthAdjust="spacingAndGlyphs">DEG</text>
<text x="554.60" y="154.20" font-size="10.0" text-anchor="end" fill="#222" stroke="#222" stroke-width="0.1" textLength="39.90" lengthAdjust="spacingAndGlyphs">DM-2OG</text>
<text x="554.60" y="172.50" font-size="10.0" text-anchor="end" fill="#222" stroke="#222" stroke-width="0.1" textLength="31.80" lengthAdjust="spacingAndGlyphs">DMOG</text>
<line x1="562.30" y1="182.50" x2="669.30" y2="182.50" stroke="#555" stroke-width="1"/>
<line x1="562.50" y1="182.00" x2="562.50" y2="185.20" stroke="#555" stroke-width="0.9"/>
<text x="562.20" y="197.70" font-size="8.6" text-anchor="middle" fill="#222" stroke="#222" stroke-width="0.1" textLength="8.20" lengthAdjust="spacingAndGlyphs">10</text>
<text x="566.60" y="194.40" font-size="5.8" fill="#222" stroke="#222" stroke-width="0.1" textLength="3.06" lengthAdjust="spacingAndGlyphs">1</text>
<line x1="589.50" y1="182.00" x2="589.50" y2="185.20" stroke="#555" stroke-width="0.9"/>
<text x="588.80" y="197.70" font-size="8.6" text-anchor="middle" fill="#222" stroke="#222" stroke-width="0.1" textLength="8.20" lengthAdjust="spacingAndGlyphs">10</text>
<text x="593.20" y="194.40" font-size="5.8" fill="#222" stroke="#222" stroke-width="0.1" textLength="3.06" lengthAdjust="spacingAndGlyphs">2</text>
<line x1="615.50" y1="182.00" x2="615.50" y2="185.20" stroke="#555" stroke-width="0.9"/>
<text x="615.10" y="197.70" font-size="8.6" text-anchor="middle" fill="#222" stroke="#222" stroke-width="0.1" textLength="8.20" lengthAdjust="spacingAndGlyphs">10</text>
<text x="619.50" y="194.40" font-size="5.8" fill="#222" stroke="#222" stroke-width="0.1" textLength="3.06" lengthAdjust="spacingAndGlyphs">3</text>
<line x1="642.50" y1="182.00" x2="642.50" y2="185.20" stroke="#555" stroke-width="0.9"/>
<text x="641.60" y="197.70" font-size="8.6" text-anchor="middle" fill="#222" stroke="#222" stroke-width="0.1" textLength="8.20" lengthAdjust="spacingAndGlyphs">10</text>
<text x="646.00" y="194.40" font-size="5.8" fill="#222" stroke="#222" stroke-width="0.1" textLength="3.06" lengthAdjust="spacingAndGlyphs">4</text>
<line x1="668.50" y1="182.00" x2="668.50" y2="185.20" stroke="#555" stroke-width="0.9"/>
<text x="668.20" y="197.70" font-size="8.6" text-anchor="middle" fill="#222" stroke="#222" stroke-width="0.1" textLength="8.20" lengthAdjust="spacingAndGlyphs">10</text>
<text x="672.60" y="194.40" font-size="5.8" fill="#222" stroke="#222" stroke-width="0.1" textLength="3.06" lengthAdjust="spacingAndGlyphs">5</text>
<text x="547.00" y="217.00" font-size="9.3" fill="#222" stroke="#222" stroke-width="0.1" textLength="136.50" lengthAdjust="spacingAndGlyphs">Mean GFP fluorescence (a.u.)</text>
<line x1="616.50" y1="91.00" x2="616.50" y2="120.60" stroke="#8a8a8a" stroke-width="0.9"/>
<line x1="640.50" y1="91.00" x2="640.50" y2="138.90" stroke="#8a8a8a" stroke-width="0.9"/>
<text x="618.00" y="109.00" font-size="7.6" fill="#8a8a8a" stroke="#8a8a8a" stroke-width="0.1" textLength="19.90" lengthAdjust="spacingAndGlyphs">0.002</text>
<text x="642.00" y="118.10" font-size="7.6" fill="#8a8a8a" stroke="#8a8a8a" stroke-width="0.1" textLength="17.10" lengthAdjust="spacingAndGlyphs">0.371</text>
<circle cx="591.00" cy="92.80" r="1.9" fill="#a3a3a3"/>
<circle cx="591.90" cy="94.20" r="1.9" fill="#a3a3a3"/>
<circle cx="588.70" cy="96.00" r="1.9" fill="#a3a3a3"/>
<circle cx="591.00" cy="96.90" r="1.9" fill="#a3a3a3"/>
<circle cx="589.20" cy="98.80" r="1.9" fill="#a3a3a3"/>
<circle cx="591.00" cy="100.60" r="1.9" fill="#a3a3a3"/>
<circle cx="592.60" cy="98.60" r="1.9" fill="#a3a3a3"/>
<circle cx="599.70" cy="96.70" r="1.9" fill="#a3a3a3"/>
<line x1="593.50" y1="91.50" x2="593.50" y2="102.00" stroke="#777" stroke-width="0.9"/>
<line x1="593.30" y1="96.50" x2="597.60" y2="96.50" stroke="#555" stroke-width="0.9"/>
<line x1="597.50" y1="94.40" x2="597.50" y2="99.00" stroke="#555" stroke-width="0.9"/>
<circle cx="604.00" cy="110.70" r="2.0" fill="#f6767b"/>
<circle cx="608.00" cy="113.40" r="2.0" fill="#f6767b"/>
<circle cx="605.60" cy="113.00" r="2.0" fill="#f6767b"/>
<circle cx="601.10" cy="119.00" r="2.0" fill="#f6767b"/>
<circle cx="607.10" cy="119.00" r="2.0" fill="#f6767b"/>
<line x1="605.20" y1="115.00" x2="605.20" y2="120.00" stroke="#999" stroke-width="0.7"/>
<circle cx="592.40" cy="128.60" r="1.95" fill="#f8992d"/>
<circle cx="591.90" cy="131.30" r="1.95" fill="#f8992d"/>
<circle cx="593.30" cy="134.50" r="1.95" fill="#f8992d"/>
<circle cx="591.00" cy="136.80" r="1.95" fill="#f8992d"/>
<circle cx="616.00" cy="147.00" r="1.9" fill="#b44fd5"/>
<circle cx="616.00" cy="149.00" r="1.9" fill="#b44fd5"/>
<circle cx="615.80" cy="155.30" r="1.9" fill="#b44fd5"/>
<circle cx="620.60" cy="151.20" r="1.9" fill="#b44fd5"/>
<line x1="614.60" y1="151.50" x2="617.90" y2="151.50" stroke="#333" stroke-width="0.9"/>
<line x1="614.50" y1="149.60" x2="614.50" y2="152.80" stroke="#333" stroke-width="0.9"/>
<line x1="617.50" y1="149.60" x2="617.50" y2="152.80" stroke="#333" stroke-width="0.9"/>
<circle cx="641.60" cy="165.40" r="1.95" fill="#4b98f2"/>
<circle cx="646.40" cy="165.40" r="1.95" fill="#4b98f2"/>
<circle cx="639.80" cy="173.30" r="1.95" fill="#4b98f2"/>
<circle cx="644.70" cy="173.30" r="1.95" fill="#4b98f2"/>
<circle cx="655.30" cy="169.30" r="1.95" fill="#4b98f2"/>
<line x1="635.50" y1="169.50" x2="652.50" y2="169.50" stroke="#444" stroke-width="0.9"/>
<line x1="635.50" y1="166.70" x2="635.50" y2="172.00" stroke="#444" stroke-width="0.9"/>
<line x1="652.50" y1="166.70" x2="652.50" y2="172.00" stroke="#444" stroke-width="0.9"/>
<line x1="647.10" y1="165.40" x2="647.10" y2="175.00" stroke="#999" stroke-width="0.8"/>
<text transform="translate(14.00,321.80) rotate(-90)" font-size="9.6" text-anchor="middle" fill="#222" stroke="#222" stroke-width="0.1" textLength="107.60" lengthAdjust="spacingAndGlyphs">Area under curve (a.u.)</text>
<text transform="translate(8.80,507.50) rotate(-90)" font-size="9.6" text-anchor="middle" fill="#222" stroke="#222" stroke-width="0.1" textLength="107.00" lengthAdjust="spacingAndGlyphs">Area under curve (a.u.)</text>
<text x="9.60" y="591.10" font-size="9.5" fill="#222" stroke="#222" stroke-width="0.1" textLength="30.70" lengthAdjust="spacingAndGlyphs">sgRNA</text>
<line x1="48.50" y1="268.00" x2="48.50" y2="377.60" stroke="#8a8a8a" stroke-width="1"/>
<line x1="47.90" y1="377.50" x2="111.40" y2="377.50" stroke="#8a8a8a" stroke-width="1"/>
<line x1="44.80" y1="377.50" x2="48.40" y2="377.50" stroke="#8a8a8a" stroke-width="1"/>
<text x="40.80" y="380.80" font-size="9.3" text-anchor="end" fill="#222" stroke="#222" stroke-width="0.1" textLength="5.43" lengthAdjust="spacingAndGlyphs">0</text>
<line x1="44.80" y1="349.50" x2="48.40" y2="349.50" stroke="#8a8a8a" stroke-width="1"/>
<text x="40.80" y="353.53" font-size="9.3" text-anchor="end" fill="#222" stroke="#222" stroke-width="0.1" textLength="16.29" lengthAdjust="spacingAndGlyphs">200</text>
<line x1="44.80" y1="322.50" x2="48.40" y2="322.50" stroke="#8a8a8a" stroke-width="1"/>
<text x="40.80" y="326.25" font-size="9.3" text-anchor="end" fill="#222" stroke="#222" stroke-width="0.1" textLength="16.29" lengthAdjust="spacingAndGlyphs">400</text>
<line x1="44.80" y1="295.50" x2="48.40" y2="295.50" stroke="#8a8a8a" stroke-width="1"/>
<text x="40.80" y="298.97" font-size="9.3" text-anchor="end" fill="#222" stroke="#222" stroke-width="0.1" textLength="16.29" lengthAdjust="spacingAndGlyphs">600</text>
<line x1="44.80" y1="268.50" x2="48.40" y2="268.50" stroke="#8a8a8a" stroke-width="1"/>
<text x="40.80" y="271.70" font-size="9.3" text-anchor="end" fill="#222" stroke="#222" stroke-width="0.1" textLength="16.29" lengthAdjust="spacingAndGlyphs">800</text>
<line x1="60.50" y1="377.10" x2="60.50" y2="380.70" stroke="#8a8a8a" stroke-width="1"/>
<line x1="79.50" y1="377.10" x2="79.50" y2="380.70" stroke="#8a8a8a" stroke-width="1"/>
<line x1="98.50" y1="377.10" x2="98.50" y2="380.70" stroke="#8a8a8a" stroke-width="1"/>
<text x="42.70" y="262.00" font-size="10" fill="#222" stroke="#222" stroke-width="0.1" textLength="71.10" lengthAdjust="spacingAndGlyphs">2-Oxoglutarate</text>
<line x1="54.80" y1="289.50" x2="104.20" y2="289.50" stroke="#9a9a9a" stroke-width="1"/>
<text x="79.50" y="287.40" font-size="8.4" text-anchor="middle" fill="#808080" stroke="#808080" stroke-width="0.1" textLength="23.75" lengthAdjust="spacingAndGlyphs">0.639</text>
<line x1="54.80" y1="300.50" x2="85.30" y2="300.50" stroke="#9a9a9a" stroke-width="1"/>
<text x="70.05" y="298.30" font-size="8.4" text-anchor="middle" fill="#808080" stroke="#808080" stroke-width="0.1" textLength="23.75" lengthAdjust="spacingAndGlyphs">0.006</text>
<line x1="60.50" y1="361.50" x2="60.50" y2="366.90" stroke="#444" stroke-width="1"/>
<line x1="57.60" y1="361.50" x2="63.60" y2="361.50" stroke="#444" stroke-width="1"/>
<line x1="57.60" y1="366.50" x2="63.60" y2="366.50" stroke="#444" stroke-width="1"/>
<line x1="54.30" y1="364.50" x2="66.90" y2="364.50" stroke="#444" stroke-width="1"/>
<circle cx="56.80" cy="366.90" r="2.25" fill="#a9a9a9"/>
<circle cx="59.80" cy="365.20" r="2.25" fill="#a9a9a9"/>
<circle cx="62.60" cy="365.60" r="2.25" fill="#a9a9a9"/>
<circle cx="65.10" cy="360.20" r="2.25" fill="#a9a9a9"/>
<circle cx="65.10" cy="365.50" r="2.25" fill="#a9a9a9"/>
<line x1="79.50" y1="308.40" x2="79.50" y2="334.60" stroke="#474747" stroke-width="1"/>
<line x1="76.50" y1="308.50" x2="82.50" y2="308.50" stroke="#474747" stroke-width="1"/>
<line x1="76.50" y1="334.50" x2="82.50" y2="334.50" stroke="#474747" stroke-width="1"/>
<line x1="73.20" y1="321.50" x2="85.80" y2="321.50" stroke="#474747" stroke-width="1"/>
<circle cx="79.50" cy="305.90" r="2.25" fill="#f6878b"/>
<circle cx="79.50" cy="315.90" r="2.25" fill="#f6878b"/>
<circle cx="79.50" cy="327.90" r="2.25" fill="#f6878b"/>
<circle cx="79.50" cy="335.10" r="2.25" fill="#f6878b"/>
<line x1="98.50" y1="351.00" x2="98.50" y2="370.40" stroke="#474747" stroke-width="1"/>
<line x1="95.40" y1="351.50" x2="101.40" y2="351.50" stroke="#474747" stroke-width="1"/>
<line x1="95.40" y1="370.50" x2="101.40" y2="370.50" stroke="#474747" stroke-width="1"/>
<line x1="92.10" y1="360.50" x2="104.70" y2="360.50" stroke="#474747" stroke-width="1"/>
<circle cx="98.40" cy="350.50" r="2.25" fill="#f9a43c"/>
<circle cx="98.40" cy="356.00" r="2.25" fill="#f9a43c"/>
<circle cx="98.40" cy="363.20" r="2.25" fill="#f9a43c"/>
<circle cx="98.40" cy="372.70" r="2.25" fill="#f9a43c"/>
<text transform="translate(65.10,389.50) rotate(-41)" font-size="9.0" text-anchor="end" fill="#222" stroke="#222" stroke-width="0.1" textLength="35.00" lengthAdjust="spacingAndGlyphs">Vehicle</text>
<text transform="translate(85.00,389.50) rotate(-41)" font-size="9.0" text-anchor="end" fill="#222" stroke="#222" stroke-width="0.1" textLength="30.50" lengthAdjust="spacingAndGlyphs">ML226</text>
<text transform="translate(103.90,389.50) rotate(-41)" font-size="9.0" text-anchor="end" fill="#222" stroke="#222" stroke-width="0.1" textLength="19.30" lengthAdjust="spacingAndGlyphs">DEG</text>
<line x1="136.50" y1="268.00" x2="136.50" y2="377.60" stroke="#8a8a8a" stroke-width="1"/>
<line x1="135.50" y1="377.50" x2="199.00" y2="377.50" stroke="#8a8a8a" stroke-width="1"/>
<line x1="132.40" y1="377.50" x2="136.00" y2="377.50" stroke="#8a8a8a" stroke-width="1"/>
<text x="128.40" y="380.80" font-size="9.3" text-anchor="end" fill="#222" stroke="#222" stroke-width="0.1" textLength="5.43" lengthAdjust="spacingAndGlyphs">0</text>
<line x1="132.40" y1="355.50" x2="136.00" y2="355.50" stroke="#8a8a8a" stroke-width="1"/>
<text x="128.40" y="358.98" font-size="9.3" text-anchor="end" fill="#222" stroke="#222" stroke-width="0.1" textLength="10.86" lengthAdjust="spacingAndGlyphs">20</text>
<line x1="132.40" y1="333.50" x2="136.00" y2="333.50" stroke="#8a8a8a" stroke-width="1"/>
<text x="128.40" y="337.16" font-size="9.3" text-anchor="end" fill="#222" stroke="#222" stroke-width="0.1" textLength="10.86" lengthAdjust="spacingAndGlyphs">40</text>
<line x1="132.40" y1="311.50" x2="136.00" y2="311.50" stroke="#8a8a8a" stroke-width="1"/>
<text x="128.40" y="315.34" font-size="9.3" text-anchor="end" fill="#222" stroke="#222" stroke-width="0.1" textLength="10.86" lengthAdjust="spacingAndGlyphs">60</text>
<line x1="132.40" y1="289.50" x2="136.00" y2="289.50" stroke="#8a8a8a" stroke-width="1"/>
<text x="128.40" y="293.52" font-size="9.3" text-anchor="end" fill="#222" stroke="#222" stroke-width="0.1" textLength="10.86" lengthAdjust="spacingAndGlyphs">80</text>
<line x1="132.40" y1="268.50" x2="136.00" y2="268.50" stroke="#8a8a8a" stroke-width="1"/>
<text x="128.40" y="271.70" font-size="9.3" text-anchor="end" fill="#222" stroke="#222" stroke-width="0.1" textLength="16.29" lengthAdjust="spacingAndGlyphs">100</text>
<line x1="148.50" y1="377.10" x2="148.50" y2="380.70" stroke="#8a8a8a" stroke-width="1"/>
<line x1="167.50" y1="377.10" x2="167.50" y2="380.70" stroke="#8a8a8a" stroke-width="1"/>
<line x1="186.50" y1="377.10" x2="186.50" y2="380.70" stroke="#8a8a8a" stroke-width="1"/>
<text x="131.00" y="261.60" font-size="10" fill="#222" stroke="#222" stroke-width="0.1" textLength="40.50" lengthAdjust="spacingAndGlyphs">Pyruvate</text>
<line x1="142.40" y1="275.50" x2="191.80" y2="275.50" stroke="#9a9a9a" stroke-width="1"/>
<text x="167.10" y="272.90" font-size="8.4" text-anchor="middle" fill="#808080" stroke="#808080" stroke-width="0.1" textLength="23.75" lengthAdjust="spacingAndGlyphs">0.106</text>
<line x1="142.40" y1="294.50" x2="172.90" y2="294.50" stroke="#9a9a9a" stroke-width="1"/>
<text x="157.65" y="292.00" font-size="8.4" text-anchor="middle" fill="#808080" stroke="#808080" stroke-width="0.1" textLength="23.75" lengthAdjust="spacingAndGlyphs">0.547</text>
<line x1="148.50" y1="311.70" x2="148.50" y2="326.50" stroke="#474747" stroke-width="1"/>
<line x1="145.20" y1="311.50" x2="151.20" y2="311.50" stroke="#474747" stroke-width="1"/>
<line x1="145.20" y1="326.50" x2="151.20" y2="326.50" stroke="#474747" stroke-width="1"/>
<line x1="141.90" y1="319.50" x2="154.50" y2="319.50" stroke="#474747" stroke-width="1"/>
<circle cx="144.20" cy="314.10" r="2.25" fill="#a9a9a9"/>
<circle cx="152.40" cy="311.50" r="2.25" fill="#a9a9a9"/>
<circle cx="152.40" cy="323.50" r="2.25" fill="#a9a9a9"/>
<circle cx="144.20" cy="327.50" r="2.25" fill="#a9a9a9"/>
<line x1="167.50" y1="303.50" x2="167.50" y2="327.50" stroke="#474747" stroke-width="1"/>
<line x1="164.10" y1="303.50" x2="170.10" y2="303.50" stroke="#474747" stroke-width="1"/>
<line x1="164.10" y1="327.50" x2="170.10" y2="327.50" stroke="#474747" stroke-width="1"/>
<line x1="160.80" y1="315.50" x2="173.40" y2="315.50" stroke="#474747" stroke-width="1"/>
<circle cx="167.10" cy="299.10" r="2.25" fill="#f6878b"/>
<circle cx="167.10" cy="313.50" r="2.25" fill="#f6878b"/>
<circle cx="167.10" cy="321.50" r="2.25" fill="#f6878b"/>
<circle cx="167.10" cy="327.10" r="2.25" fill="#f6878b"/>
<line x1="186.50" y1="284.50" x2="186.50" y2="318.50" stroke="#474747" stroke-width="1"/>
<line x1="183.00" y1="284.50" x2="189.00" y2="284.50" stroke="#474747" stroke-width="1"/>
<line x1="183.00" y1="318.50" x2="189.00" y2="318.50" stroke="#474747" stroke-width="1"/>
<line x1="179.70" y1="301.50" x2="192.30" y2="301.50" stroke="#474747" stroke-width="1"/>
<circle cx="186.00" cy="280.70" r="2.25" fill="#f9a43c"/>
<circle cx="181.60" cy="300.10" r="2.25" fill="#f9a43c"/>
<circle cx="190.00" cy="303.70" r="2.25" fill="#f9a43c"/>
<circle cx="186.00" cy="322.10" r="2.25" fill="#f9a43c"/>
<text transform="translate(152.70,389.50) rotate(-41)" font-size="9.0" text-anchor="end" fill="#222" stroke="#222" stroke-width="0.1" textLength="35.00" lengthAdjust="spacingAndGlyphs">Vehicle</text>
<text transform="translate(172.60,389.50) rotate(-41)" font-size="9.0" text-anchor="end" fill="#222" stroke="#222" stroke-width="0.1" textLength="30.50" lengthAdjust="spacingAndGlyphs">ML226</text>
<text transform="translate(191.50,389.50) rotate(-41)" font-size="9.0" text-anchor="end" fill="#222" stroke="#222" stroke-width="0.1" textLength="19.30" lengthAdjust="spacingAndGlyphs">DEG</text>
<line x1="227.50" y1="268.00" x2="227.50" y2="377.60" stroke="#8a8a8a" stroke-width="1"/>
<line x1="226.70" y1="377.50" x2="290.20" y2="377.50" stroke="#8a8a8a" stroke-width="1"/>
<line x1="223.60" y1="377.50" x2="227.20" y2="377.50" stroke="#8a8a8a" stroke-width="1"/>
<text x="219.60" y="380.80" font-size="9.3" text-anchor="end" fill="#222" stroke="#222" stroke-width="0.1" textLength="5.43" lengthAdjust="spacingAndGlyphs">0</text>
<line x1="223.60" y1="349.50" x2="227.20" y2="349.50" stroke="#8a8a8a" stroke-width="1"/>
<text x="219.60" y="353.53" font-size="9.3" text-anchor="end" fill="#222" stroke="#222" stroke-width="0.1" textLength="10.86" lengthAdjust="spacingAndGlyphs">50</text>
<line x1="223.60" y1="322.50" x2="227.20" y2="322.50" stroke="#8a8a8a" stroke-width="1"/>
<text x="219.60" y="326.25" font-size="9.3" text-anchor="end" fill="#222" stroke="#222" stroke-width="0.1" textLength="16.29" lengthAdjust="spacingAndGlyphs">100</text>
<line x1="223.60" y1="295.50" x2="227.20" y2="295.50" stroke="#8a8a8a" stroke-width="1"/>
<text x="219.60" y="298.97" font-size="9.3" text-anchor="end" fill="#222" stroke="#222" stroke-width="0.1" textLength="16.29" lengthAdjust="spacingAndGlyphs">150</text>
<line x1="223.60" y1="268.50" x2="227.20" y2="268.50" stroke="#8a8a8a" stroke-width="1"/>
<text x="219.60" y="271.70" font-size="9.3" text-anchor="end" fill="#222" stroke="#222" stroke-width="0.1" textLength="16.29" lengthAdjust="spacingAndGlyphs">200</text>
<line x1="239.50" y1="377.10" x2="239.50" y2="380.70" stroke="#8a8a8a" stroke-width="1"/>
<line x1="258.50" y1="377.10" x2="258.50" y2="380.70" stroke="#8a8a8a" stroke-width="1"/>
<line x1="277.50" y1="377.10" x2="277.50" y2="380.70" stroke="#8a8a8a" stroke-width="1"/>
<text x="221.60" y="250.00" font-size="10" fill="#222" stroke="#222" stroke-width="0.1" textLength="51.50" lengthAdjust="spacingAndGlyphs">2-Hydroxy-</text>
<text x="221.60" y="262.00" font-size="10" fill="#222" stroke="#222" stroke-width="0.1" textLength="42.00" lengthAdjust="spacingAndGlyphs">glutarate</text>
<line x1="233.60" y1="285.50" x2="283.00" y2="285.50" stroke="#9a9a9a" stroke-width="1"/>
<text x="258.30" y="283.00" font-size="8.4" text-anchor="middle" fill="#808080" stroke="#808080" stroke-width="0.1" textLength="23.75" lengthAdjust="spacingAndGlyphs">0.985</text>
<line x1="233.60" y1="296.50" x2="264.10" y2="296.50" stroke="#9a9a9a" stroke-width="1"/>
<text x="248.85" y="294.20" font-size="8.4" text-anchor="middle" fill="#808080" stroke="#808080" stroke-width="0.1" textLength="23.75" lengthAdjust="spacingAndGlyphs">0.003</text>
<line x1="239.50" y1="346.20" x2="239.50" y2="361.20" stroke="#555" stroke-width="1"/>
<line x1="236.40" y1="346.50" x2="242.40" y2="346.50" stroke="#555" stroke-width="1"/>
<line x1="236.40" y1="361.50" x2="242.40" y2="361.50" stroke="#555" stroke-width="1"/>
<line x1="233.10" y1="353.50" x2="245.70" y2="353.50" stroke="#555" stroke-width="1"/>
<circle cx="235.40" cy="348.90" r="2.25" fill="#a9a9a9"/>
<circle cx="244.00" cy="345.90" r="2.25" fill="#a9a9a9"/>
<circle cx="235.40" cy="361.40" r="2.25" fill="#a9a9a9"/>
<circle cx="244.00" cy="359.60" r="2.25" fill="#a9a9a9"/>
<line x1="258.50" y1="302.50" x2="258.50" y2="328.50" stroke="#474747" stroke-width="1"/>
<line x1="255.30" y1="302.50" x2="261.30" y2="302.50" stroke="#474747" stroke-width="1"/>
<line x1="255.30" y1="328.50" x2="261.30" y2="328.50" stroke="#474747" stroke-width="1"/>
<line x1="252.00" y1="315.50" x2="264.60" y2="315.50" stroke="#474747" stroke-width="1"/>
<circle cx="258.30" cy="301.70" r="2.25" fill="#f6878b"/>
<circle cx="258.30" cy="307.70" r="2.25" fill="#f6878b"/>
<circle cx="258.30" cy="323.10" r="2.25" fill="#f6878b"/>
<circle cx="258.30" cy="329.20" r="2.25" fill="#f6878b"/>
<line x1="277.50" y1="339.50" x2="277.50" y2="365.90" stroke="#474747" stroke-width="1"/>
<line x1="274.20" y1="339.50" x2="280.20" y2="339.50" stroke="#474747" stroke-width="1"/>
<line x1="274.20" y1="365.50" x2="280.20" y2="365.50" stroke="#474747" stroke-width="1"/>
<line x1="270.90" y1="352.50" x2="283.50" y2="352.50" stroke="#474747" stroke-width="1"/>
<circle cx="277.20" cy="337.90" r="2.25" fill="#f9a43c"/>
<circle cx="273.00" cy="350.90" r="2.25" fill="#f9a43c"/>
<circle cx="281.40" cy="352.10" r="2.25" fill="#f9a43c"/>
<circle cx="277.20" cy="370.10" r="2.25" fill="#f9a43c"/>
<text transform="translate(243.90,389.50) rotate(-41)" font-size="9.0" text-anchor="end" fill="#222" stroke="#222" stroke-width="0.1" textLength="35.00" lengthAdjust="spacingAndGlyphs">Vehicle</text>
<text transform="translate(263.80,389.50) rotate(-41)" font-size="9.0" text-anchor="end" fill="#222" stroke="#222" stroke-width="0.1" textLength="30.50" lengthAdjust="spacingAndGlyphs">ML226</text>
<text transform="translate(282.70,389.50) rotate(-41)" font-size="9.0" text-anchor="end" fill="#222" stroke="#222" stroke-width="0.1" textLength="19.30" lengthAdjust="spacingAndGlyphs">DEG</text>
<line x1="318.50" y1="268.00" x2="318.50" y2="377.60" stroke="#8a8a8a" stroke-width="1"/>
<line x1="317.80" y1="377.50" x2="381.30" y2="377.50" stroke="#8a8a8a" stroke-width="1"/>
<line x1="314.70" y1="377.50" x2="318.30" y2="377.50" stroke="#8a8a8a" stroke-width="1"/>
<text x="310.70" y="380.80" font-size="9.3" text-anchor="end" fill="#222" stroke="#222" stroke-width="0.1" textLength="5.43" lengthAdjust="spacingAndGlyphs">0</text>
<line x1="314.70" y1="349.50" x2="318.30" y2="349.50" stroke="#8a8a8a" stroke-width="1"/>
<text x="310.70" y="353.53" font-size="9.3" text-anchor="end" fill="#222" stroke="#222" stroke-width="0.1" textLength="10.86" lengthAdjust="spacingAndGlyphs">50</text>
<line x1="314.70" y1="322.50" x2="318.30" y2="322.50" stroke="#8a8a8a" stroke-width="1"/>
<text x="310.70" y="326.25" font-size="9.3" text-anchor="end" fill="#222" stroke="#222" stroke-width="0.1" textLength="16.29" lengthAdjust="spacingAndGlyphs">100</text>
<line x1="314.70" y1="295.50" x2="318.30" y2="295.50" stroke="#8a8a8a" stroke-width="1"/>
<text x="310.70" y="298.97" font-size="9.3" text-anchor="end" fill="#222" stroke="#222" stroke-width="0.1" textLength="16.29" lengthAdjust="spacingAndGlyphs">150</text>
<line x1="314.70" y1="268.50" x2="318.30" y2="268.50" stroke="#8a8a8a" stroke-width="1"/>
<text x="310.70" y="271.70" font-size="9.3" text-anchor="end" fill="#222" stroke="#222" stroke-width="0.1" textLength="16.29" lengthAdjust="spacingAndGlyphs">200</text>
<line x1="330.50" y1="377.10" x2="330.50" y2="380.70" stroke="#8a8a8a" stroke-width="1"/>
<line x1="349.50" y1="377.10" x2="349.50" y2="380.70" stroke="#8a8a8a" stroke-width="1"/>
<line x1="368.50" y1="377.10" x2="368.50" y2="380.70" stroke="#8a8a8a" stroke-width="1"/>
<text x="312.60" y="261.60" font-size="10" fill="#222" stroke="#222" stroke-width="0.1" textLength="46.90" lengthAdjust="spacingAndGlyphs">Succinate</text>
<line x1="324.70" y1="301.50" x2="374.10" y2="301.50" stroke="#9a9a9a" stroke-width="1"/>
<text x="349.40" y="299.60" font-size="8.4" text-anchor="middle" fill="#808080" stroke="#808080" stroke-width="0.1" textLength="23.75" lengthAdjust="spacingAndGlyphs">0.991</text>
<line x1="324.70" y1="316.50" x2="355.20" y2="316.50" stroke="#9a9a9a" stroke-width="1"/>
<text x="339.95" y="314.10" font-size="8.4" text-anchor="middle" fill="#808080" stroke="#808080" stroke-width="0.1" textLength="23.75" lengthAdjust="spacingAndGlyphs">0.036</text>
<line x1="330.50" y1="323.10" x2="330.50" y2="345.40" stroke="#474747" stroke-width="1"/>
<line x1="327.50" y1="323.50" x2="333.50" y2="323.50" stroke="#474747" stroke-width="1"/>
<line x1="327.50" y1="345.50" x2="333.50" y2="345.50" stroke="#474747" stroke-width="1"/>
<line x1="324.20" y1="334.50" x2="336.80" y2="334.50" stroke="#474747" stroke-width="1"/>
<circle cx="330.50" cy="321.70" r="2.25" fill="#a9a9a9"/>
<circle cx="330.50" cy="328.90" r="2.25" fill="#a9a9a9"/>
<circle cx="330.50" cy="340.10" r="2.25" fill="#a9a9a9"/>
<circle cx="330.50" cy="345.90" r="2.25" fill="#a9a9a9"/>
<line x1="349.50" y1="333.70" x2="349.50" y2="350.10" stroke="#474747" stroke-width="1"/>
<line x1="346.40" y1="333.50" x2="352.40" y2="333.50" stroke="#474747" stroke-width="1"/>
<line x1="346.40" y1="350.50" x2="352.40" y2="350.50" stroke="#474747" stroke-width="1"/>
<line x1="343.10" y1="342.50" x2="355.70" y2="342.50" stroke="#474747" stroke-width="1"/>
<circle cx="345.10" cy="335.10" r="2.25" fill="#f6878b"/>
<circle cx="353.70" cy="334.40" r="2.25" fill="#f6878b"/>
<circle cx="349.40" cy="344.80" r="2.25" fill="#f6878b"/>
<circle cx="349.40" cy="352.60" r="2.25" fill="#f6878b"/>
<line x1="368.50" y1="307.00" x2="368.50" y2="358.10" stroke="#555" stroke-width="1"/>
<line x1="365.30" y1="307.50" x2="371.30" y2="307.50" stroke="#555" stroke-width="1"/>
<line x1="365.30" y1="358.50" x2="371.30" y2="358.50" stroke="#555" stroke-width="1"/>
<line x1="362.00" y1="332.50" x2="374.60" y2="332.50" stroke="#aaa" stroke-width="1"/>
<circle cx="368.30" cy="307.00" r="2.25" fill="#f9a43c"/>
<circle cx="368.30" cy="322.00" r="2.25" fill="#f9a43c"/>
<circle cx="368.30" cy="336.10" r="2.25" fill="#f9a43c"/>
<circle cx="368.30" cy="366.50" r="2.25" fill="#f9a43c"/>
<text transform="translate(335.00,389.50) rotate(-41)" font-size="9.0" text-anchor="end" fill="#222" stroke="#222" stroke-width="0.1" textLength="35.00" lengthAdjust="spacingAndGlyphs">Vehicle</text>
<text transform="translate(354.90,389.50) rotate(-41)" font-size="9.0" text-anchor="end" fill="#222" stroke="#222" stroke-width="0.1" textLength="30.50" lengthAdjust="spacingAndGlyphs">ML226</text>
<text transform="translate(373.80,389.50) rotate(-41)" font-size="9.0" text-anchor="end" fill="#222" stroke="#222" stroke-width="0.1" textLength="19.30" lengthAdjust="spacingAndGlyphs">DEG</text>
<line x1="418.50" y1="268.00" x2="418.50" y2="377.60" stroke="#8a8a8a" stroke-width="1"/>
<line x1="417.50" y1="377.50" x2="481.00" y2="377.50" stroke="#8a8a8a" stroke-width="1"/>
<line x1="414.40" y1="377.50" x2="418.00" y2="377.50" stroke="#8a8a8a" stroke-width="1"/>
<text x="410.40" y="380.80" font-size="9.3" text-anchor="end" fill="#222" stroke="#222" stroke-width="0.1" textLength="5.43" lengthAdjust="spacingAndGlyphs">0</text>
<line x1="414.40" y1="355.50" x2="418.00" y2="355.50" stroke="#8a8a8a" stroke-width="1"/>
<text x="410.40" y="358.98" font-size="9.3" text-anchor="end" fill="#222" stroke="#222" stroke-width="0.1" textLength="16.29" lengthAdjust="spacingAndGlyphs">200</text>
<line x1="414.40" y1="333.50" x2="418.00" y2="333.50" stroke="#8a8a8a" stroke-width="1"/>
<text x="410.40" y="337.16" font-size="9.3" text-anchor="end" fill="#222" stroke="#222" stroke-width="0.1" textLength="16.29" lengthAdjust="spacingAndGlyphs">400</text>
<line x1="414.40" y1="311.50" x2="418.00" y2="311.50" stroke="#8a8a8a" stroke-width="1"/>
<text x="410.40" y="315.34" font-size="9.3" text-anchor="end" fill="#222" stroke="#222" stroke-width="0.1" textLength="16.29" lengthAdjust="spacingAndGlyphs">600</text>
<line x1="414.40" y1="289.50" x2="418.00" y2="289.50" stroke="#8a8a8a" stroke-width="1"/>
<text x="410.40" y="293.52" font-size="9.3" text-anchor="end" fill="#222" stroke="#222" stroke-width="0.1" textLength="16.29" lengthAdjust="spacingAndGlyphs">800</text>
<line x1="414.40" y1="268.50" x2="418.00" y2="268.50" stroke="#8a8a8a" stroke-width="1"/>
<text x="410.40" y="271.70" font-size="9.3" text-anchor="end" fill="#222" stroke="#222" stroke-width="0.1" textLength="23.00" lengthAdjust="spacingAndGlyphs">1,000</text>
<line x1="431.50" y1="377.10" x2="431.50" y2="380.70" stroke="#8a8a8a" stroke-width="1"/>
<line x1="450.50" y1="377.10" x2="450.50" y2="380.70" stroke="#8a8a8a" stroke-width="1"/>
<line x1="468.50" y1="377.10" x2="468.50" y2="380.70" stroke="#8a8a8a" stroke-width="1"/>
<text x="413.70" y="261.60" font-size="10" fill="#222" stroke="#222" stroke-width="0.1" textLength="43.40" lengthAdjust="spacingAndGlyphs">Glutarate</text>
<line x1="468.50" y1="287.20" x2="468.50" y2="347.20" stroke="#999" stroke-width="1"/>
<line x1="465.90" y1="287.50" x2="471.90" y2="287.50" stroke="#999" stroke-width="1"/>
<line x1="465.90" y1="347.50" x2="471.90" y2="347.50" stroke="#999" stroke-width="1"/>
<line x1="462.60" y1="317.50" x2="475.20" y2="317.50" stroke="#999" stroke-width="1"/>
<circle cx="468.90" cy="287.20" r="2.25" fill="#f9a43c"/>
<circle cx="468.90" cy="320.80" r="2.25" fill="#f9a43c"/>
<circle cx="468.90" cy="357.30" r="2.25" fill="#f9a43c"/>
<text transform="translate(426.50,373.80) rotate(-41)" font-size="9" fill="#222" stroke="#222" stroke-width="0.1" font-style="italic" textLength="18.50" lengthAdjust="spacingAndGlyphs">n.d.</text>
<text transform="translate(445.30,373.80) rotate(-41)" font-size="9" fill="#222" stroke="#222" stroke-width="0.1" font-style="italic" textLength="18.50" lengthAdjust="spacingAndGlyphs">n.d.</text>
<text transform="translate(435.80,389.50) rotate(-41)" font-size="9.0" text-anchor="end" fill="#222" stroke="#222" stroke-width="0.1" textLength="35.00" lengthAdjust="spacingAndGlyphs">Vehicle</text>
<text transform="translate(455.60,389.50) rotate(-41)" font-size="9.0" text-anchor="end" fill="#222" stroke="#222" stroke-width="0.1" textLength="30.50" lengthAdjust="spacingAndGlyphs">ML226</text>
<text transform="translate(474.40,389.50) rotate(-41)" font-size="9.0" text-anchor="end" fill="#222" stroke="#222" stroke-width="0.1" textLength="19.30" lengthAdjust="spacingAndGlyphs">DEG</text>
<line x1="48.50" y1="454.40" x2="48.50" y2="562.80" stroke="#8a8a8a" stroke-width="1"/>
<line x1="47.90" y1="562.50" x2="111.40" y2="562.50" stroke="#8a8a8a" stroke-width="1"/>
<line x1="44.80" y1="562.50" x2="48.40" y2="562.50" stroke="#8a8a8a" stroke-width="1"/>
<text x="40.80" y="566.00" font-size="9.3" text-anchor="end" fill="#222" stroke="#222" stroke-width="0.1" textLength="5.43" lengthAdjust="spacingAndGlyphs">0</text>
<line x1="44.80" y1="540.50" x2="48.40" y2="540.50" stroke="#8a8a8a" stroke-width="1"/>
<text x="40.80" y="544.42" font-size="9.3" text-anchor="end" fill="#222" stroke="#222" stroke-width="0.1" textLength="16.29" lengthAdjust="spacingAndGlyphs">200</text>
<line x1="44.80" y1="519.50" x2="48.40" y2="519.50" stroke="#8a8a8a" stroke-width="1"/>
<text x="40.80" y="522.84" font-size="9.3" text-anchor="end" fill="#222" stroke="#222" stroke-width="0.1" textLength="16.29" lengthAdjust="spacingAndGlyphs">400</text>
<line x1="44.80" y1="497.50" x2="48.40" y2="497.50" stroke="#8a8a8a" stroke-width="1"/>
<text x="40.80" y="501.26" font-size="9.3" text-anchor="end" fill="#222" stroke="#222" stroke-width="0.1" textLength="16.29" lengthAdjust="spacingAndGlyphs">600</text>
<line x1="44.80" y1="475.50" x2="48.40" y2="475.50" stroke="#8a8a8a" stroke-width="1"/>
<text x="40.80" y="479.68" font-size="9.3" text-anchor="end" fill="#222" stroke="#222" stroke-width="0.1" textLength="16.29" lengthAdjust="spacingAndGlyphs">800</text>
<line x1="44.80" y1="454.50" x2="48.40" y2="454.50" stroke="#8a8a8a" stroke-width="1"/>
<text x="40.80" y="458.10" font-size="9.3" text-anchor="end" fill="#222" stroke="#222" stroke-width="0.1" textLength="23.00" lengthAdjust="spacingAndGlyphs">1,000</text>
<line x1="60.50" y1="562.30" x2="60.50" y2="565.90" stroke="#8a8a8a" stroke-width="1"/>
<line x1="79.50" y1="562.30" x2="79.50" y2="565.90" stroke="#8a8a8a" stroke-width="1"/>
<line x1="98.50" y1="562.30" x2="98.50" y2="565.90" stroke="#8a8a8a" stroke-width="1"/>
<text x="42.70" y="448.00" font-size="10" fill="#222" stroke="#222" stroke-width="0.1" textLength="71.10" lengthAdjust="spacingAndGlyphs">2-Oxoglutarate</text>
<line x1="54.80" y1="477.50" x2="104.20" y2="477.50" stroke="#9a9a9a" stroke-width="1"/>
<text x="79.50" y="475.10" font-size="8.4" text-anchor="middle" fill="#808080" stroke="#808080" stroke-width="0.1" textLength="23.75" lengthAdjust="spacingAndGlyphs">0.004</text>
<line x1="54.80" y1="487.50" x2="85.30" y2="487.50" stroke="#bbbbbb" stroke-width="1"/>
<text x="70.05" y="485.80" font-size="8.4" text-anchor="middle" fill="#808080" stroke="#808080" stroke-width="0.1" textLength="23.75" lengthAdjust="spacingAndGlyphs">0.449</text>
<line x1="60.50" y1="541.30" x2="60.50" y2="554.70" stroke="#474747" stroke-width="1"/>
<line x1="57.60" y1="541.50" x2="63.60" y2="541.50" stroke="#474747" stroke-width="1"/>
<line x1="57.60" y1="554.50" x2="63.60" y2="554.50" stroke="#474747" stroke-width="1"/>
<line x1="54.30" y1="548.50" x2="66.90" y2="548.50" stroke="#474747" stroke-width="1"/>
<circle cx="65.20" cy="541.30" r="2.25" fill="#a9a9a9"/>
<circle cx="56.80" cy="544.30" r="2.25" fill="#a9a9a9"/>
<circle cx="61.00" cy="550.50" r="2.25" fill="#a9a9a9"/>
<circle cx="61.00" cy="556.00" r="2.25" fill="#a9a9a9"/>
<line x1="79.50" y1="495.10" x2="79.50" y2="507.60" stroke="#474747" stroke-width="1"/>
<line x1="76.50" y1="495.50" x2="82.50" y2="495.50" stroke="#474747" stroke-width="1"/>
<line x1="76.50" y1="507.50" x2="82.50" y2="507.50" stroke="#474747" stroke-width="1"/>
<line x1="73.20" y1="501.50" x2="85.80" y2="501.50" stroke="#474747" stroke-width="1"/>
<circle cx="79.50" cy="493.40" r="2.25" fill="#f6878b"/>
<circle cx="79.50" cy="499.60" r="2.25" fill="#f6878b"/>
<circle cx="75.30" cy="506.80" r="2.25" fill="#f6878b"/>
<circle cx="83.70" cy="506.40" r="2.25" fill="#f6878b"/>
<line x1="98.50" y1="539.50" x2="98.50" y2="550.70" stroke="#474747" stroke-width="1"/>
<line x1="95.40" y1="539.50" x2="101.40" y2="539.50" stroke="#474747" stroke-width="1"/>
<line x1="95.40" y1="550.50" x2="101.40" y2="550.50" stroke="#474747" stroke-width="1"/>
<line x1="92.10" y1="545.50" x2="104.70" y2="545.50" stroke="#474747" stroke-width="1"/>
<circle cx="94.20" cy="541.50" r="2.25" fill="#f9a43c"/>
<circle cx="102.90" cy="540.50" r="2.25" fill="#f9a43c"/>
<circle cx="98.40" cy="546.80" r="2.25" fill="#f9a43c"/>
<circle cx="98.40" cy="551.90" r="2.25" fill="#f9a43c"/>
<text transform="translate(65.60,576.10) rotate(-41)" font-size="9.0" text-anchor="end" fill="#222" stroke="#222" stroke-width="0.1" textLength="20.80" lengthAdjust="spacingAndGlyphs">β2M</text>
<text transform="translate(87.50,576.10) rotate(-41)" font-size="9.0" text-anchor="end" fill="#222" stroke="#222" stroke-width="0.1" textLength="36.00" lengthAdjust="spacingAndGlyphs">ABHD11</text>
<text transform="translate(104.10,576.10) rotate(-41)" font-size="9.0" text-anchor="end" fill="#222" stroke="#222" stroke-width="0.1" textLength="29.00" lengthAdjust="spacingAndGlyphs">GCDH</text>
<line x1="136.50" y1="454.40" x2="136.50" y2="562.80" stroke="#8a8a8a" stroke-width="1"/>
<line x1="135.50" y1="562.50" x2="199.00" y2="562.50" stroke="#8a8a8a" stroke-width="1"/>
<line x1="132.40" y1="562.50" x2="136.00" y2="562.50" stroke="#8a8a8a" stroke-width="1"/>
<text x="128.40" y="566.00" font-size="9.3" text-anchor="end" fill="#222" stroke="#222" stroke-width="0.1" textLength="5.43" lengthAdjust="spacingAndGlyphs">0</text>
<line x1="132.40" y1="540.50" x2="136.00" y2="540.50" stroke="#8a8a8a" stroke-width="1"/>
<text x="128.40" y="544.42" font-size="9.3" text-anchor="end" fill="#222" stroke="#222" stroke-width="0.1" textLength="10.86" lengthAdjust="spacingAndGlyphs">10</text>
<line x1="132.40" y1="519.50" x2="136.00" y2="519.50" stroke="#8a8a8a" stroke-width="1"/>
<text x="128.40" y="522.84" font-size="9.3" text-anchor="end" fill="#222" stroke="#222" stroke-width="0.1" textLength="10.86" lengthAdjust="spacingAndGlyphs">20</text>
<line x1="132.40" y1="497.50" x2="136.00" y2="497.50" stroke="#8a8a8a" stroke-width="1"/>
<text x="128.40" y="501.26" font-size="9.3" text-anchor="end" fill="#222" stroke="#222" stroke-width="0.1" textLength="10.86" lengthAdjust="spacingAndGlyphs">30</text>
<line x1="132.40" y1="475.50" x2="136.00" y2="475.50" stroke="#8a8a8a" stroke-width="1"/>
<text x="128.40" y="479.68" font-size="9.3" text-anchor="end" fill="#222" stroke="#222" stroke-width="0.1" textLength="10.86" lengthAdjust="spacingAndGlyphs">40</text>
<line x1="132.40" y1="454.50" x2="136.00" y2="454.50" stroke="#8a8a8a" stroke-width="1"/>
<text x="128.40" y="458.10" font-size="9.3" text-anchor="end" fill="#222" stroke="#222" stroke-width="0.1" textLength="10.86" lengthAdjust="spacingAndGlyphs">50</text>
<line x1="148.50" y1="562.30" x2="148.50" y2="565.90" stroke="#8a8a8a" stroke-width="1"/>
<line x1="167.50" y1="562.30" x2="167.50" y2="565.90" stroke="#8a8a8a" stroke-width="1"/>
<line x1="186.50" y1="562.30" x2="186.50" y2="565.90" stroke="#8a8a8a" stroke-width="1"/>
<text x="130.60" y="448.00" font-size="10" fill="#222" stroke="#222" stroke-width="0.1" textLength="40.50" lengthAdjust="spacingAndGlyphs">Pyruvate</text>
<line x1="142.40" y1="470.50" x2="191.80" y2="470.50" stroke="#9a9a9a" stroke-width="1"/>
<text x="167.10" y="468.20" font-size="8.4" text-anchor="middle" fill="#808080" stroke="#808080" stroke-width="0.1" textLength="23.75" lengthAdjust="spacingAndGlyphs">0.998</text>
<line x1="142.40" y1="481.50" x2="172.90" y2="481.50" stroke="#9a9a9a" stroke-width="1"/>
<text x="157.65" y="479.00" font-size="8.4" text-anchor="middle" fill="#808080" stroke="#808080" stroke-width="0.1" textLength="23.75" lengthAdjust="spacingAndGlyphs">0.454</text>
<line x1="148.50" y1="485.10" x2="148.50" y2="515.50" stroke="#474747" stroke-width="1"/>
<line x1="145.20" y1="485.50" x2="151.20" y2="485.50" stroke="#474747" stroke-width="1"/>
<line x1="145.20" y1="515.50" x2="151.20" y2="515.50" stroke="#474747" stroke-width="1"/>
<line x1="141.90" y1="500.50" x2="154.50" y2="500.50" stroke="#474747" stroke-width="1"/>
<circle cx="143.80" cy="488.70" r="2.25" fill="#a9a9a9"/>
<circle cx="152.20" cy="486.50" r="2.25" fill="#a9a9a9"/>
<circle cx="148.20" cy="510.70" r="2.25" fill="#a9a9a9"/>
<circle cx="148.20" cy="515.10" r="2.25" fill="#a9a9a9"/>
<line x1="167.50" y1="501.30" x2="167.50" y2="522.40" stroke="#474747" stroke-width="1"/>
<line x1="164.10" y1="501.50" x2="170.10" y2="501.50" stroke="#474747" stroke-width="1"/>
<line x1="164.10" y1="522.50" x2="170.10" y2="522.50" stroke="#474747" stroke-width="1"/>
<line x1="160.80" y1="511.50" x2="173.40" y2="511.50" stroke="#474747" stroke-width="1"/>
<circle cx="162.70" cy="503.50" r="2.25" fill="#f6878b"/>
<circle cx="171.10" cy="501.70" r="2.25" fill="#f6878b"/>
<circle cx="162.70" cy="520.80" r="2.25" fill="#f6878b"/>
<circle cx="171.10" cy="520.80" r="2.25" fill="#f6878b"/>
<line x1="186.50" y1="478.70" x2="186.50" y2="521.80" stroke="#474747" stroke-width="1"/>
<line x1="183.00" y1="478.50" x2="189.00" y2="478.50" stroke="#474747" stroke-width="1"/>
<line x1="183.00" y1="521.50" x2="189.00" y2="521.50" stroke="#474747" stroke-width="1"/>
<line x1="179.70" y1="500.50" x2="192.30" y2="500.50" stroke="#474747" stroke-width="1"/>
<circle cx="186.00" cy="478.70" r="2.25" fill="#f9a43c"/>
<circle cx="186.00" cy="485.50" r="2.25" fill="#f9a43c"/>
<circle cx="186.00" cy="515.70" r="2.25" fill="#f9a43c"/>
<circle cx="186.00" cy="521.80" r="2.25" fill="#f9a43c"/>
<text transform="translate(153.20,576.10) rotate(-41)" font-size="9.0" text-anchor="end" fill="#222" stroke="#222" stroke-width="0.1" textLength="20.80" lengthAdjust="spacingAndGlyphs">β2M</text>
<text transform="translate(175.10,576.10) rotate(-41)" font-size="9.0" text-anchor="end" fill="#222" stroke="#222" stroke-width="0.1" textLength="36.00" lengthAdjust="spacingAndGlyphs">ABHD11</text>
<text transform="translate(191.70,576.10) rotate(-41)" font-size="9.0" text-anchor="end" fill="#222" stroke="#222" stroke-width="0.1" textLength="29.00" lengthAdjust="spacingAndGlyphs">GCDH</text>
<line x1="227.50" y1="454.40" x2="227.50" y2="562.80" stroke="#8a8a8a" stroke-width="1"/>
<line x1="226.70" y1="562.50" x2="290.20" y2="562.50" stroke="#8a8a8a" stroke-width="1"/>
<line x1="223.60" y1="562.50" x2="227.20" y2="562.50" stroke="#8a8a8a" stroke-width="1"/>
<text x="219.60" y="566.00" font-size="9.3" text-anchor="end" fill="#222" stroke="#222" stroke-width="0.1" textLength="5.43" lengthAdjust="spacingAndGlyphs">0</text>
<line x1="223.60" y1="544.50" x2="227.20" y2="544.50" stroke="#8a8a8a" stroke-width="1"/>
<text x="219.60" y="548.02" font-size="9.3" text-anchor="end" fill="#222" stroke="#222" stroke-width="0.1" textLength="10.86" lengthAdjust="spacingAndGlyphs">20</text>
<line x1="223.60" y1="526.50" x2="227.20" y2="526.50" stroke="#8a8a8a" stroke-width="1"/>
<text x="219.60" y="530.03" font-size="9.3" text-anchor="end" fill="#222" stroke="#222" stroke-width="0.1" textLength="10.86" lengthAdjust="spacingAndGlyphs">40</text>
<line x1="223.60" y1="508.50" x2="227.20" y2="508.50" stroke="#8a8a8a" stroke-width="1"/>
<text x="219.60" y="512.05" font-size="9.3" text-anchor="end" fill="#222" stroke="#222" stroke-width="0.1" textLength="10.86" lengthAdjust="spacingAndGlyphs">60</text>
<line x1="223.60" y1="490.50" x2="227.20" y2="490.50" stroke="#8a8a8a" stroke-width="1"/>
<text x="219.60" y="494.07" font-size="9.3" text-anchor="end" fill="#222" stroke="#222" stroke-width="0.1" textLength="10.86" lengthAdjust="spacingAndGlyphs">80</text>
<line x1="223.60" y1="472.50" x2="227.20" y2="472.50" stroke="#8a8a8a" stroke-width="1"/>
<text x="219.60" y="476.08" font-size="9.3" text-anchor="end" fill="#222" stroke="#222" stroke-width="0.1" textLength="16.29" lengthAdjust="spacingAndGlyphs">100</text>
<line x1="223.60" y1="454.50" x2="227.20" y2="454.50" stroke="#8a8a8a" stroke-width="1"/>
<text x="219.60" y="458.10" font-size="9.3" text-anchor="end" fill="#222" stroke="#222" stroke-width="0.1" textLength="16.29" lengthAdjust="spacingAndGlyphs">120</text>
<line x1="239.50" y1="562.30" x2="239.50" y2="565.90" stroke="#8a8a8a" stroke-width="1"/>
<line x1="258.50" y1="562.30" x2="258.50" y2="565.90" stroke="#8a8a8a" stroke-width="1"/>
<line x1="277.50" y1="562.30" x2="277.50" y2="565.90" stroke="#8a8a8a" stroke-width="1"/>
<text x="222.20" y="435.80" font-size="10" fill="#222" stroke="#222" stroke-width="0.1" textLength="51.50" lengthAdjust="spacingAndGlyphs">2-Hydroxy-</text>
<text x="222.20" y="447.70" font-size="10" fill="#222" stroke="#222" stroke-width="0.1" textLength="42.00" lengthAdjust="spacingAndGlyphs">glutarate</text>
<line x1="233.60" y1="464.50" x2="283.00" y2="464.50" stroke="#9a9a9a" stroke-width="1"/>
<text x="258.30" y="462.70" font-size="8.4" text-anchor="middle" fill="#808080" stroke="#808080" stroke-width="0.1" textLength="23.75" lengthAdjust="spacingAndGlyphs">0.267</text>
<line x1="233.60" y1="475.50" x2="264.10" y2="475.50" stroke="#9a9a9a" stroke-width="1"/>
<text x="248.85" y="473.40" font-size="8.4" text-anchor="middle" fill="#808080" stroke="#808080" stroke-width="0.1" textLength="23.75" lengthAdjust="spacingAndGlyphs">0.014</text>
<line x1="239.50" y1="542.30" x2="239.50" y2="547.90" stroke="#474747" stroke-width="1"/>
<line x1="236.40" y1="542.50" x2="242.40" y2="542.50" stroke="#474747" stroke-width="1"/>
<line x1="236.40" y1="547.50" x2="242.40" y2="547.50" stroke="#474747" stroke-width="1"/>
<line x1="233.10" y1="545.50" x2="245.70" y2="545.50" stroke="#474747" stroke-width="1"/>
<circle cx="235.20" cy="543.10" r="2.25" fill="#a9a9a9"/>
<circle cx="244.00" cy="542.10" r="2.25" fill="#a9a9a9"/>
<circle cx="235.20" cy="549.00" r="2.25" fill="#a9a9a9"/>
<circle cx="244.00" cy="548.80" r="2.25" fill="#a9a9a9"/>
<line x1="258.50" y1="486.80" x2="258.50" y2="518.70" stroke="#474747" stroke-width="1"/>
<line x1="255.30" y1="486.50" x2="261.30" y2="486.50" stroke="#474747" stroke-width="1"/>
<line x1="255.30" y1="518.50" x2="261.30" y2="518.50" stroke="#474747" stroke-width="1"/>
<line x1="252.00" y1="502.50" x2="264.60" y2="502.50" stroke="#474747" stroke-width="1"/>
<circle cx="258.30" cy="480.90" r="2.25" fill="#f6878b"/>
<circle cx="258.30" cy="503.00" r="2.25" fill="#f6878b"/>
<circle cx="258.30" cy="508.30" r="2.25" fill="#f6878b"/>
<circle cx="258.30" cy="518.70" r="2.25" fill="#f6878b"/>
<line x1="277.50" y1="535.40" x2="277.50" y2="547.30" stroke="#474747" stroke-width="1"/>
<line x1="274.20" y1="535.50" x2="280.20" y2="535.50" stroke="#474747" stroke-width="1"/>
<line x1="274.20" y1="547.50" x2="280.20" y2="547.50" stroke="#474747" stroke-width="1"/>
<line x1="270.90" y1="541.50" x2="283.50" y2="541.50" stroke="#474747" stroke-width="1"/>
<circle cx="277.60" cy="532.70" r="2.25" fill="#f9a43c"/>
<circle cx="273.00" cy="545.60" r="2.25" fill="#f9a43c"/>
<circle cx="277.60" cy="542.70" r="2.25" fill="#f9a43c"/>
<circle cx="282.00" cy="545.60" r="2.25" fill="#f9a43c"/>
<text transform="translate(244.40,576.10) rotate(-41)" font-size="9.0" text-anchor="end" fill="#222" stroke="#222" stroke-width="0.1" textLength="20.80" lengthAdjust="spacingAndGlyphs">β2M</text>
<text transform="translate(266.30,576.10) rotate(-41)" font-size="9.0" text-anchor="end" fill="#222" stroke="#222" stroke-width="0.1" textLength="36.00" lengthAdjust="spacingAndGlyphs">ABHD11</text>
<text transform="translate(282.90,576.10) rotate(-41)" font-size="9.0" text-anchor="end" fill="#222" stroke="#222" stroke-width="0.1" textLength="29.00" lengthAdjust="spacingAndGlyphs">GCDH</text>
<line x1="318.50" y1="454.40" x2="318.50" y2="562.80" stroke="#8a8a8a" stroke-width="1"/>
<line x1="317.80" y1="562.50" x2="381.30" y2="562.50" stroke="#8a8a8a" stroke-width="1"/>
<line x1="314.70" y1="562.50" x2="318.30" y2="562.50" stroke="#8a8a8a" stroke-width="1"/>
<text x="310.70" y="566.00" font-size="9.3" text-anchor="end" fill="#222" stroke="#222" stroke-width="0.1" textLength="5.43" lengthAdjust="spacingAndGlyphs">0</text>
<line x1="314.70" y1="540.50" x2="318.30" y2="540.50" stroke="#8a8a8a" stroke-width="1"/>
<text x="310.70" y="544.42" font-size="9.3" text-anchor="end" fill="#222" stroke="#222" stroke-width="0.1" textLength="10.86" lengthAdjust="spacingAndGlyphs">20</text>
<line x1="314.70" y1="519.50" x2="318.30" y2="519.50" stroke="#8a8a8a" stroke-width="1"/>
<text x="310.70" y="522.84" font-size="9.3" text-anchor="end" fill="#222" stroke="#222" stroke-width="0.1" textLength="10.86" lengthAdjust="spacingAndGlyphs">40</text>
<line x1="314.70" y1="497.50" x2="318.30" y2="497.50" stroke="#8a8a8a" stroke-width="1"/>
<text x="310.70" y="501.26" font-size="9.3" text-anchor="end" fill="#222" stroke="#222" stroke-width="0.1" textLength="10.86" lengthAdjust="spacingAndGlyphs">60</text>
<line x1="314.70" y1="475.50" x2="318.30" y2="475.50" stroke="#8a8a8a" stroke-width="1"/>
<text x="310.70" y="479.68" font-size="9.3" text-anchor="end" fill="#222" stroke="#222" stroke-width="0.1" textLength="10.86" lengthAdjust="spacingAndGlyphs">80</text>
<line x1="314.70" y1="454.50" x2="318.30" y2="454.50" stroke="#8a8a8a" stroke-width="1"/>
<text x="310.70" y="458.10" font-size="9.3" text-anchor="end" fill="#222" stroke="#222" stroke-width="0.1" textLength="16.29" lengthAdjust="spacingAndGlyphs">100</text>
<line x1="330.50" y1="562.30" x2="330.50" y2="565.90" stroke="#8a8a8a" stroke-width="1"/>
<line x1="349.50" y1="562.30" x2="349.50" y2="565.90" stroke="#8a8a8a" stroke-width="1"/>
<line x1="368.50" y1="562.30" x2="368.50" y2="565.90" stroke="#8a8a8a" stroke-width="1"/>
<text x="312.60" y="448.00" font-size="10" fill="#222" stroke="#222" stroke-width="0.1" textLength="46.90" lengthAdjust="spacingAndGlyphs">Succinate</text>
<line x1="324.70" y1="464.50" x2="374.10" y2="464.50" stroke="#9a9a9a" stroke-width="1"/>
<text x="349.40" y="462.30" font-size="8.4" text-anchor="middle" fill="#808080" stroke="#808080" stroke-width="0.1" textLength="23.75" lengthAdjust="spacingAndGlyphs">0.560</text>
<line x1="324.70" y1="475.50" x2="355.20" y2="475.50" stroke="#9a9a9a" stroke-width="1"/>
<text x="339.95" y="473.20" font-size="8.4" text-anchor="middle" fill="#808080" stroke="#808080" stroke-width="0.1" textLength="23.75" lengthAdjust="spacingAndGlyphs">0.098</text>
<line x1="330.50" y1="482.60" x2="330.50" y2="520.20" stroke="#474747" stroke-width="1"/>
<line x1="327.50" y1="482.50" x2="333.50" y2="482.50" stroke="#474747" stroke-width="1"/>
<line x1="327.50" y1="520.50" x2="333.50" y2="520.50" stroke="#474747" stroke-width="1"/>
<line x1="324.20" y1="501.50" x2="336.80" y2="501.50" stroke="#474747" stroke-width="1"/>
<circle cx="330.50" cy="480.90" r="2.25" fill="#a9a9a9"/>
<circle cx="330.50" cy="490.90" r="2.25" fill="#a9a9a9"/>
<circle cx="326.50" cy="517.20" r="2.25" fill="#a9a9a9"/>
<circle cx="335.30" cy="516.80" r="2.25" fill="#a9a9a9"/>
<line x1="349.50" y1="524.30" x2="349.50" y2="532.30" stroke="#474747" stroke-width="1"/>
<line x1="346.40" y1="524.50" x2="352.40" y2="524.50" stroke="#474747" stroke-width="1"/>
<line x1="346.40" y1="532.50" x2="352.40" y2="532.50" stroke="#474747" stroke-width="1"/>
<line x1="343.10" y1="528.50" x2="355.70" y2="528.50" stroke="#474747" stroke-width="1"/>
<circle cx="345.30" cy="525.80" r="2.25" fill="#f6878b"/>
<circle cx="353.80" cy="523.90" r="2.25" fill="#f6878b"/>
<circle cx="353.80" cy="528.90" r="2.25" fill="#f6878b"/>
<circle cx="345.30" cy="533.10" r="2.25" fill="#f6878b"/>
<line x1="368.50" y1="479.40" x2="368.50" y2="514.50" stroke="#474747" stroke-width="1"/>
<line x1="365.30" y1="479.50" x2="371.30" y2="479.50" stroke="#474747" stroke-width="1"/>
<line x1="365.30" y1="514.50" x2="371.30" y2="514.50" stroke="#474747" stroke-width="1"/>
<line x1="362.00" y1="497.50" x2="374.60" y2="497.50" stroke="#474747" stroke-width="1"/>
<circle cx="368.30" cy="478.80" r="2.25" fill="#f9a43c"/>
<circle cx="368.30" cy="486.80" r="2.25" fill="#f9a43c"/>
<circle cx="368.30" cy="507.20" r="2.25" fill="#f9a43c"/>
<circle cx="368.30" cy="515.60" r="2.25" fill="#f9a43c"/>
<text transform="translate(335.50,576.10) rotate(-41)" font-size="9.0" text-anchor="end" fill="#222" stroke="#222" stroke-width="0.1" textLength="20.80" lengthAdjust="spacingAndGlyphs">β2M</text>
<text transform="translate(357.40,576.10) rotate(-41)" font-size="9.0" text-anchor="end" fill="#222" stroke="#222" stroke-width="0.1" textLength="36.00" lengthAdjust="spacingAndGlyphs">ABHD11</text>
<text transform="translate(374.00,576.10) rotate(-41)" font-size="9.0" text-anchor="end" fill="#222" stroke="#222" stroke-width="0.1" textLength="29.00" lengthAdjust="spacingAndGlyphs">GCDH</text>
<line x1="418.50" y1="454.40" x2="418.50" y2="562.80" stroke="#8a8a8a" stroke-width="1"/>
<line x1="417.50" y1="562.50" x2="481.00" y2="562.50" stroke="#8a8a8a" stroke-width="1"/>
<line x1="414.40" y1="562.50" x2="418.00" y2="562.50" stroke="#8a8a8a" stroke-width="1"/>
<text x="410.40" y="566.00" font-size="9.3" text-anchor="end" fill="#222" stroke="#222" stroke-width="0.1" textLength="5.43" lengthAdjust="spacingAndGlyphs">0</text>
<line x1="414.40" y1="540.50" x2="418.00" y2="540.50" stroke="#8a8a8a" stroke-width="1"/>
<text x="410.40" y="544.42" font-size="9.3" text-anchor="end" fill="#222" stroke="#222" stroke-width="0.1" textLength="16.29" lengthAdjust="spacingAndGlyphs">200</text>
<line x1="414.40" y1="519.50" x2="418.00" y2="519.50" stroke="#8a8a8a" stroke-width="1"/>
<text x="410.40" y="522.84" font-size="9.3" text-anchor="end" fill="#222" stroke="#222" stroke-width="0.1" textLength="16.29" lengthAdjust="spacingAndGlyphs">400</text>
<line x1="414.40" y1="497.50" x2="418.00" y2="497.50" stroke="#8a8a8a" stroke-width="1"/>
<text x="410.40" y="501.26" font-size="9.3" text-anchor="end" fill="#222" stroke="#222" stroke-width="0.1" textLength="16.29" lengthAdjust="spacingAndGlyphs">600</text>
<line x1="414.40" y1="475.50" x2="418.00" y2="475.50" stroke="#8a8a8a" stroke-width="1"/>
<text x="410.40" y="479.68" font-size="9.3" text-anchor="end" fill="#222" stroke="#222" stroke-width="0.1" textLength="16.29" lengthAdjust="spacingAndGlyphs">800</text>
<line x1="414.40" y1="454.50" x2="418.00" y2="454.50" stroke="#8a8a8a" stroke-width="1"/>
<text x="410.40" y="458.10" font-size="9.3" text-anchor="end" fill="#222" stroke="#222" stroke-width="0.1" textLength="23.00" lengthAdjust="spacingAndGlyphs">1,000</text>
<line x1="431.50" y1="562.30" x2="431.50" y2="565.90" stroke="#8a8a8a" stroke-width="1"/>
<line x1="450.50" y1="562.30" x2="450.50" y2="565.90" stroke="#8a8a8a" stroke-width="1"/>
<line x1="468.50" y1="562.30" x2="468.50" y2="565.90" stroke="#8a8a8a" stroke-width="1"/>
<text x="414.40" y="447.00" font-size="10" fill="#222" stroke="#222" stroke-width="0.1" textLength="43.40" lengthAdjust="spacingAndGlyphs">Glutarate</text>
<text transform="translate(429.00,557.10) rotate(-41)" font-size="7.8" fill="#222" stroke="#222" stroke-width="0.1" font-style="italic" textLength="15.50" lengthAdjust="spacingAndGlyphs">n.d.</text>
<text transform="translate(447.80,557.10) rotate(-41)" font-size="7.8" fill="#222" stroke="#222" stroke-width="0.1" font-style="italic" textLength="15.50" lengthAdjust="spacingAndGlyphs">n.d.</text>
<text transform="translate(466.60,557.10) rotate(-41)" font-size="7.8" fill="#222" stroke="#222" stroke-width="0.1" font-style="italic" textLength="15.50" lengthAdjust="spacingAndGlyphs">n.d.</text>
<text transform="translate(436.30,576.10) rotate(-41)" font-size="9.0" text-anchor="end" fill="#222" stroke="#222" stroke-width="0.1" textLength="20.80" lengthAdjust="spacingAndGlyphs">β2M</text>
<text transform="translate(458.10,576.10) rotate(-41)" font-size="9.0" text-anchor="end" fill="#222" stroke="#222" stroke-width="0.1" textLength="36.00" lengthAdjust="spacingAndGlyphs">ABHD11</text>
<text transform="translate(474.60,576.10) rotate(-41)" font-size="9.0" text-anchor="end" fill="#222" stroke="#222" stroke-width="0.1" textLength="29.00" lengthAdjust="spacingAndGlyphs">GCDH</text>
</svg>
</body></html>
